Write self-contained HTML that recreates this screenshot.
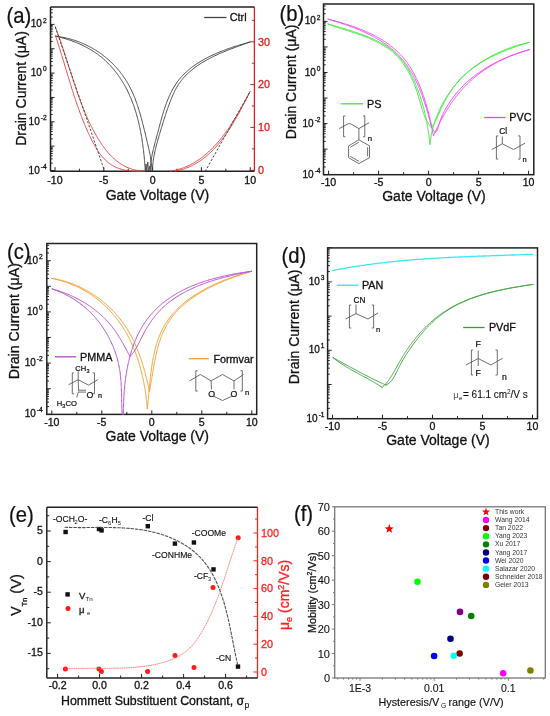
<!DOCTYPE html>
<html><head><meta charset="utf-8"><style>
html,body{margin:0;padding:0;background:#fff;}
svg{display:block;filter:blur(0.35px);}
text{font-family:"Liberation Sans", sans-serif;}
</style></head><body>
<svg width="550" height="716" viewBox="0 0 550 716">
<rect width="550" height="716" fill="#fff"/>
<line x1="254.4" y1="7" x2="254.4" y2="171.2" stroke="#d82020" stroke-width="1.3" />
<line x1="55" y1="171.2" x2="55" y2="167.2" stroke="#222" stroke-width="1.0" />
<line x1="103.8" y1="171.2" x2="103.8" y2="167.2" stroke="#222" stroke-width="1.0" />
<line x1="152.6" y1="171.2" x2="152.6" y2="167.2" stroke="#222" stroke-width="1.0" />
<line x1="201.4" y1="171.2" x2="201.4" y2="167.2" stroke="#222" stroke-width="1.0" />
<line x1="250.2" y1="171.2" x2="250.2" y2="167.2" stroke="#222" stroke-width="1.0" />
<line x1="79.4" y1="171.2" x2="79.4" y2="168.7" stroke="#222" stroke-width="1.0" />
<line x1="128.2" y1="171.2" x2="128.2" y2="168.7" stroke="#222" stroke-width="1.0" />
<line x1="177" y1="171.2" x2="177" y2="168.7" stroke="#222" stroke-width="1.0" />
<line x1="225.8" y1="171.2" x2="225.8" y2="168.7" stroke="#222" stroke-width="1.0" />
<line x1="50.5" y1="170.5" x2="54.5" y2="170.5" stroke="#222" stroke-width="1.0" />
<line x1="50.5" y1="163.17" x2="52.7" y2="163.17" stroke="#222" stroke-width="1.0" />
<line x1="50.5" y1="158.88" x2="52.7" y2="158.88" stroke="#222" stroke-width="1.0" />
<line x1="50.5" y1="155.84" x2="52.7" y2="155.84" stroke="#222" stroke-width="1.0" />
<line x1="50.5" y1="153.48" x2="52.7" y2="153.48" stroke="#222" stroke-width="1.0" />
<line x1="50.5" y1="151.55" x2="52.7" y2="151.55" stroke="#222" stroke-width="1.0" />
<line x1="50.5" y1="149.92" x2="52.7" y2="149.92" stroke="#222" stroke-width="1.0" />
<line x1="50.5" y1="148.51" x2="52.7" y2="148.51" stroke="#222" stroke-width="1.0" />
<line x1="50.5" y1="147.26" x2="52.7" y2="147.26" stroke="#222" stroke-width="1.0" />
<line x1="50.5" y1="146.15" x2="54.5" y2="146.15" stroke="#222" stroke-width="1.0" />
<line x1="50.5" y1="138.82" x2="52.7" y2="138.82" stroke="#222" stroke-width="1.0" />
<line x1="50.5" y1="134.53" x2="52.7" y2="134.53" stroke="#222" stroke-width="1.0" />
<line x1="50.5" y1="131.49" x2="52.7" y2="131.49" stroke="#222" stroke-width="1.0" />
<line x1="50.5" y1="129.13" x2="52.7" y2="129.13" stroke="#222" stroke-width="1.0" />
<line x1="50.5" y1="127.2" x2="52.7" y2="127.2" stroke="#222" stroke-width="1.0" />
<line x1="50.5" y1="125.57" x2="52.7" y2="125.57" stroke="#222" stroke-width="1.0" />
<line x1="50.5" y1="124.16" x2="52.7" y2="124.16" stroke="#222" stroke-width="1.0" />
<line x1="50.5" y1="122.91" x2="52.7" y2="122.91" stroke="#222" stroke-width="1.0" />
<line x1="50.5" y1="121.8" x2="54.5" y2="121.8" stroke="#222" stroke-width="1.0" />
<line x1="50.5" y1="114.47" x2="52.7" y2="114.47" stroke="#222" stroke-width="1.0" />
<line x1="50.5" y1="110.18" x2="52.7" y2="110.18" stroke="#222" stroke-width="1.0" />
<line x1="50.5" y1="107.14" x2="52.7" y2="107.14" stroke="#222" stroke-width="1.0" />
<line x1="50.5" y1="104.78" x2="52.7" y2="104.78" stroke="#222" stroke-width="1.0" />
<line x1="50.5" y1="102.85" x2="52.7" y2="102.85" stroke="#222" stroke-width="1.0" />
<line x1="50.5" y1="101.22" x2="52.7" y2="101.22" stroke="#222" stroke-width="1.0" />
<line x1="50.5" y1="99.81" x2="52.7" y2="99.81" stroke="#222" stroke-width="1.0" />
<line x1="50.5" y1="98.56" x2="52.7" y2="98.56" stroke="#222" stroke-width="1.0" />
<line x1="50.5" y1="97.45" x2="54.5" y2="97.45" stroke="#222" stroke-width="1.0" />
<line x1="50.5" y1="90.12" x2="52.7" y2="90.12" stroke="#222" stroke-width="1.0" />
<line x1="50.5" y1="85.83" x2="52.7" y2="85.83" stroke="#222" stroke-width="1.0" />
<line x1="50.5" y1="82.79" x2="52.7" y2="82.79" stroke="#222" stroke-width="1.0" />
<line x1="50.5" y1="80.43" x2="52.7" y2="80.43" stroke="#222" stroke-width="1.0" />
<line x1="50.5" y1="78.5" x2="52.7" y2="78.5" stroke="#222" stroke-width="1.0" />
<line x1="50.5" y1="76.87" x2="52.7" y2="76.87" stroke="#222" stroke-width="1.0" />
<line x1="50.5" y1="75.46" x2="52.7" y2="75.46" stroke="#222" stroke-width="1.0" />
<line x1="50.5" y1="74.21" x2="52.7" y2="74.21" stroke="#222" stroke-width="1.0" />
<line x1="50.5" y1="73.1" x2="54.5" y2="73.1" stroke="#222" stroke-width="1.0" />
<line x1="50.5" y1="65.77" x2="52.7" y2="65.77" stroke="#222" stroke-width="1.0" />
<line x1="50.5" y1="61.48" x2="52.7" y2="61.48" stroke="#222" stroke-width="1.0" />
<line x1="50.5" y1="58.44" x2="52.7" y2="58.44" stroke="#222" stroke-width="1.0" />
<line x1="50.5" y1="56.08" x2="52.7" y2="56.08" stroke="#222" stroke-width="1.0" />
<line x1="50.5" y1="54.15" x2="52.7" y2="54.15" stroke="#222" stroke-width="1.0" />
<line x1="50.5" y1="52.52" x2="52.7" y2="52.52" stroke="#222" stroke-width="1.0" />
<line x1="50.5" y1="51.11" x2="52.7" y2="51.11" stroke="#222" stroke-width="1.0" />
<line x1="50.5" y1="49.86" x2="52.7" y2="49.86" stroke="#222" stroke-width="1.0" />
<line x1="50.5" y1="48.75" x2="54.5" y2="48.75" stroke="#222" stroke-width="1.0" />
<line x1="50.5" y1="41.42" x2="52.7" y2="41.42" stroke="#222" stroke-width="1.0" />
<line x1="50.5" y1="37.13" x2="52.7" y2="37.13" stroke="#222" stroke-width="1.0" />
<line x1="50.5" y1="34.09" x2="52.7" y2="34.09" stroke="#222" stroke-width="1.0" />
<line x1="50.5" y1="31.73" x2="52.7" y2="31.73" stroke="#222" stroke-width="1.0" />
<line x1="50.5" y1="29.8" x2="52.7" y2="29.8" stroke="#222" stroke-width="1.0" />
<line x1="50.5" y1="28.17" x2="52.7" y2="28.17" stroke="#222" stroke-width="1.0" />
<line x1="50.5" y1="26.76" x2="52.7" y2="26.76" stroke="#222" stroke-width="1.0" />
<line x1="50.5" y1="25.51" x2="52.7" y2="25.51" stroke="#222" stroke-width="1.0" />
<line x1="50.5" y1="24.4" x2="54.5" y2="24.4" stroke="#222" stroke-width="1.0" />
<line x1="50.5" y1="17.07" x2="52.7" y2="17.07" stroke="#222" stroke-width="1.0" />
<line x1="50.5" y1="12.78" x2="52.7" y2="12.78" stroke="#222" stroke-width="1.0" />
<line x1="50.5" y1="9.74" x2="52.7" y2="9.74" stroke="#222" stroke-width="1.0" />
<line x1="254.4" y1="170.3" x2="250.4" y2="170.3" stroke="#d82020" stroke-width="1.0" />
<text x="257.9" y="174.1" font-size="10.8" text-anchor="start" fill="#d82020" stroke="#d82020" stroke-width="0.3" >0</text>
<line x1="254.4" y1="148.89" x2="251.9" y2="148.89" stroke="#d82020" stroke-width="1.0" />
<line x1="254.4" y1="127.47" x2="250.4" y2="127.47" stroke="#d82020" stroke-width="1.0" />
<text x="257.9" y="131.27" font-size="10.8" text-anchor="start" fill="#d82020" stroke="#d82020" stroke-width="0.3" >10</text>
<line x1="254.4" y1="106.06" x2="251.9" y2="106.06" stroke="#d82020" stroke-width="1.0" />
<line x1="254.4" y1="84.64" x2="250.4" y2="84.64" stroke="#d82020" stroke-width="1.0" />
<text x="257.9" y="88.44" font-size="10.8" text-anchor="start" fill="#d82020" stroke="#d82020" stroke-width="0.3" >20</text>
<line x1="254.4" y1="63.23" x2="251.9" y2="63.23" stroke="#d82020" stroke-width="1.0" />
<line x1="254.4" y1="41.81" x2="250.4" y2="41.81" stroke="#d82020" stroke-width="1.0" />
<text x="257.9" y="45.61" font-size="10.8" text-anchor="start" fill="#d82020" stroke="#d82020" stroke-width="0.3" >30</text>
<line x1="254.4" y1="20.4" x2="251.9" y2="20.4" stroke="#d82020" stroke-width="1.0" />
<line x1="50.5" y1="7" x2="254.4" y2="7" stroke="#222" stroke-width="1.5" />
<line x1="50.5" y1="7" x2="50.5" y2="171.2" stroke="#222" stroke-width="1.5" />
<line x1="50.5" y1="171.2" x2="254.4" y2="171.2" stroke="#222" stroke-width="1.5" />
<text x="55" y="183.7" font-size="10.6" text-anchor="middle" fill="#111" stroke="#111" stroke-width="0.3" >-10</text>
<text x="103.8" y="183.7" font-size="10.6" text-anchor="middle" fill="#111" stroke="#111" stroke-width="0.3" >-5</text>
<text x="152.6" y="183.7" font-size="10.6" text-anchor="middle" fill="#111" stroke="#111" stroke-width="0.3" >0</text>
<text x="201.4" y="183.7" font-size="10.6" text-anchor="middle" fill="#111" stroke="#111" stroke-width="0.3" >5</text>
<text x="250.2" y="183.7" font-size="10.6" text-anchor="middle" fill="#111" stroke="#111" stroke-width="0.3" >10</text>
<text x="46.6" y="27.4" font-size="10" text-anchor="end" fill="#111" stroke="#111" stroke-width="0.3">10<tspan dx="1" dy="-4.9" font-size="6.6">2</tspan></text>
<text x="46.6" y="76.1" font-size="10" text-anchor="end" fill="#111" stroke="#111" stroke-width="0.3">10<tspan dx="1" dy="-4.9" font-size="6.6">0</tspan></text>
<text x="46.6" y="124.8" font-size="10" text-anchor="end" fill="#111" stroke="#111" stroke-width="0.3">10<tspan dx="1" dy="-4.9" font-size="6.6">-2</tspan></text>
<text x="46.6" y="173.5" font-size="10" text-anchor="end" fill="#111" stroke="#111" stroke-width="0.3">10<tspan dx="1" dy="-4.9" font-size="6.6">-4</tspan></text>
<text x="157.5" y="199.8" font-size="14" text-anchor="middle" fill="#111" stroke="#111" stroke-width="0.3" >Gate Voltage (V)</text>
<text x="25.7" y="88.5" font-size="14" text-anchor="middle" fill="#111" stroke="#111" stroke-width="0.3" transform="rotate(-90 25.7 88.5)">Drain Current (μA)</text>
<text x="0" y="0" font-size="22.5" fill="#111" stroke="#111" stroke-width="0.25" transform="translate(6.6 22.8) scale(0.9 1)">(a)</text>
<line x1="204.2" y1="17.5" x2="226.5" y2="17.5" stroke="#444" stroke-width="1.3" />
<text x="229.8" y="21.2" font-size="10.8" text-anchor="start" fill="#111" stroke="#111" stroke-width="0.3" >Ctrl</text>
<line x1="328.6" y1="174.7" x2="328.6" y2="170.7" stroke="#222" stroke-width="1.0" />
<line x1="378.6" y1="174.7" x2="378.6" y2="170.7" stroke="#222" stroke-width="1.0" />
<line x1="428.6" y1="174.7" x2="428.6" y2="170.7" stroke="#222" stroke-width="1.0" />
<line x1="478.6" y1="174.7" x2="478.6" y2="170.7" stroke="#222" stroke-width="1.0" />
<line x1="528.6" y1="174.7" x2="528.6" y2="170.7" stroke="#222" stroke-width="1.0" />
<line x1="353.6" y1="174.7" x2="353.6" y2="172.2" stroke="#222" stroke-width="1.0" />
<line x1="403.6" y1="174.7" x2="403.6" y2="172.2" stroke="#222" stroke-width="1.0" />
<line x1="453.6" y1="174.7" x2="453.6" y2="172.2" stroke="#222" stroke-width="1.0" />
<line x1="503.6" y1="174.7" x2="503.6" y2="172.2" stroke="#222" stroke-width="1.0" />
<line x1="323.5" y1="174.7" x2="327.5" y2="174.7" stroke="#222" stroke-width="1.0" />
<line x1="323.5" y1="167.01" x2="325.7" y2="167.01" stroke="#222" stroke-width="1.0" />
<line x1="323.5" y1="162.51" x2="325.7" y2="162.51" stroke="#222" stroke-width="1.0" />
<line x1="323.5" y1="159.32" x2="325.7" y2="159.32" stroke="#222" stroke-width="1.0" />
<line x1="323.5" y1="156.84" x2="325.7" y2="156.84" stroke="#222" stroke-width="1.0" />
<line x1="323.5" y1="154.82" x2="325.7" y2="154.82" stroke="#222" stroke-width="1.0" />
<line x1="323.5" y1="153.11" x2="325.7" y2="153.11" stroke="#222" stroke-width="1.0" />
<line x1="323.5" y1="151.63" x2="325.7" y2="151.63" stroke="#222" stroke-width="1.0" />
<line x1="323.5" y1="150.32" x2="325.7" y2="150.32" stroke="#222" stroke-width="1.0" />
<line x1="323.5" y1="149.15" x2="327.5" y2="149.15" stroke="#222" stroke-width="1.0" />
<line x1="323.5" y1="141.46" x2="325.7" y2="141.46" stroke="#222" stroke-width="1.0" />
<line x1="323.5" y1="136.96" x2="325.7" y2="136.96" stroke="#222" stroke-width="1.0" />
<line x1="323.5" y1="133.77" x2="325.7" y2="133.77" stroke="#222" stroke-width="1.0" />
<line x1="323.5" y1="131.29" x2="325.7" y2="131.29" stroke="#222" stroke-width="1.0" />
<line x1="323.5" y1="129.27" x2="325.7" y2="129.27" stroke="#222" stroke-width="1.0" />
<line x1="323.5" y1="127.56" x2="325.7" y2="127.56" stroke="#222" stroke-width="1.0" />
<line x1="323.5" y1="126.08" x2="325.7" y2="126.08" stroke="#222" stroke-width="1.0" />
<line x1="323.5" y1="124.77" x2="325.7" y2="124.77" stroke="#222" stroke-width="1.0" />
<line x1="323.5" y1="123.6" x2="327.5" y2="123.6" stroke="#222" stroke-width="1.0" />
<line x1="323.5" y1="115.91" x2="325.7" y2="115.91" stroke="#222" stroke-width="1.0" />
<line x1="323.5" y1="111.41" x2="325.7" y2="111.41" stroke="#222" stroke-width="1.0" />
<line x1="323.5" y1="108.22" x2="325.7" y2="108.22" stroke="#222" stroke-width="1.0" />
<line x1="323.5" y1="105.74" x2="325.7" y2="105.74" stroke="#222" stroke-width="1.0" />
<line x1="323.5" y1="103.72" x2="325.7" y2="103.72" stroke="#222" stroke-width="1.0" />
<line x1="323.5" y1="102.01" x2="325.7" y2="102.01" stroke="#222" stroke-width="1.0" />
<line x1="323.5" y1="100.53" x2="325.7" y2="100.53" stroke="#222" stroke-width="1.0" />
<line x1="323.5" y1="99.22" x2="325.7" y2="99.22" stroke="#222" stroke-width="1.0" />
<line x1="323.5" y1="98.05" x2="327.5" y2="98.05" stroke="#222" stroke-width="1.0" />
<line x1="323.5" y1="90.36" x2="325.7" y2="90.36" stroke="#222" stroke-width="1.0" />
<line x1="323.5" y1="85.86" x2="325.7" y2="85.86" stroke="#222" stroke-width="1.0" />
<line x1="323.5" y1="82.67" x2="325.7" y2="82.67" stroke="#222" stroke-width="1.0" />
<line x1="323.5" y1="80.19" x2="325.7" y2="80.19" stroke="#222" stroke-width="1.0" />
<line x1="323.5" y1="78.17" x2="325.7" y2="78.17" stroke="#222" stroke-width="1.0" />
<line x1="323.5" y1="76.46" x2="325.7" y2="76.46" stroke="#222" stroke-width="1.0" />
<line x1="323.5" y1="74.98" x2="325.7" y2="74.98" stroke="#222" stroke-width="1.0" />
<line x1="323.5" y1="73.67" x2="325.7" y2="73.67" stroke="#222" stroke-width="1.0" />
<line x1="323.5" y1="72.5" x2="327.5" y2="72.5" stroke="#222" stroke-width="1.0" />
<line x1="323.5" y1="64.81" x2="325.7" y2="64.81" stroke="#222" stroke-width="1.0" />
<line x1="323.5" y1="60.31" x2="325.7" y2="60.31" stroke="#222" stroke-width="1.0" />
<line x1="323.5" y1="57.12" x2="325.7" y2="57.12" stroke="#222" stroke-width="1.0" />
<line x1="323.5" y1="54.64" x2="325.7" y2="54.64" stroke="#222" stroke-width="1.0" />
<line x1="323.5" y1="52.62" x2="325.7" y2="52.62" stroke="#222" stroke-width="1.0" />
<line x1="323.5" y1="50.91" x2="325.7" y2="50.91" stroke="#222" stroke-width="1.0" />
<line x1="323.5" y1="49.43" x2="325.7" y2="49.43" stroke="#222" stroke-width="1.0" />
<line x1="323.5" y1="48.12" x2="325.7" y2="48.12" stroke="#222" stroke-width="1.0" />
<line x1="323.5" y1="46.95" x2="327.5" y2="46.95" stroke="#222" stroke-width="1.0" />
<line x1="323.5" y1="39.26" x2="325.7" y2="39.26" stroke="#222" stroke-width="1.0" />
<line x1="323.5" y1="34.76" x2="325.7" y2="34.76" stroke="#222" stroke-width="1.0" />
<line x1="323.5" y1="31.57" x2="325.7" y2="31.57" stroke="#222" stroke-width="1.0" />
<line x1="323.5" y1="29.09" x2="325.7" y2="29.09" stroke="#222" stroke-width="1.0" />
<line x1="323.5" y1="27.07" x2="325.7" y2="27.07" stroke="#222" stroke-width="1.0" />
<line x1="323.5" y1="25.36" x2="325.7" y2="25.36" stroke="#222" stroke-width="1.0" />
<line x1="323.5" y1="23.88" x2="325.7" y2="23.88" stroke="#222" stroke-width="1.0" />
<line x1="323.5" y1="22.57" x2="325.7" y2="22.57" stroke="#222" stroke-width="1.0" />
<line x1="323.5" y1="21.4" x2="327.5" y2="21.4" stroke="#222" stroke-width="1.0" />
<line x1="323.5" y1="13.71" x2="325.7" y2="13.71" stroke="#222" stroke-width="1.0" />
<line x1="323.5" y1="9.21" x2="325.7" y2="9.21" stroke="#222" stroke-width="1.0" />
<line x1="323.5" y1="6.02" x2="325.7" y2="6.02" stroke="#222" stroke-width="1.0" />
<rect x="323.5" y="4" width="210.3" height="170.7" stroke="#222" stroke-width="1.5" fill="none"/>
<text x="328.6" y="185.6" font-size="10.6" text-anchor="middle" fill="#111" stroke="#111" stroke-width="0.3" >-10</text>
<text x="378.6" y="185.6" font-size="10.6" text-anchor="middle" fill="#111" stroke="#111" stroke-width="0.3" >-5</text>
<text x="428.6" y="185.6" font-size="10.6" text-anchor="middle" fill="#111" stroke="#111" stroke-width="0.3" >0</text>
<text x="478.6" y="185.6" font-size="10.6" text-anchor="middle" fill="#111" stroke="#111" stroke-width="0.3" >5</text>
<text x="528.6" y="185.6" font-size="10.6" text-anchor="middle" fill="#111" stroke="#111" stroke-width="0.3" >10</text>
<text x="320.5" y="24.4" font-size="10" text-anchor="end" fill="#111" stroke="#111" stroke-width="0.3">10<tspan dx="1" dy="-4.9" font-size="6.6">2</tspan></text>
<text x="320.5" y="75.5" font-size="10" text-anchor="end" fill="#111" stroke="#111" stroke-width="0.3">10<tspan dx="1" dy="-4.9" font-size="6.6">0</tspan></text>
<text x="320.5" y="126.6" font-size="10" text-anchor="end" fill="#111" stroke="#111" stroke-width="0.3">10<tspan dx="1" dy="-4.9" font-size="6.6">-2</tspan></text>
<text x="320.5" y="177.7" font-size="10" text-anchor="end" fill="#111" stroke="#111" stroke-width="0.3">10<tspan dx="1" dy="-4.9" font-size="6.6">-4</tspan></text>
<text x="434" y="200.7" font-size="14" text-anchor="middle" fill="#111" stroke="#111" stroke-width="0.3" >Gate Voltage (V)</text>
<text x="295.6" y="81.9" font-size="14" text-anchor="middle" fill="#111" stroke="#111" stroke-width="0.3" transform="rotate(-90 295.6 81.9)">Drain Current (μA)</text>
<text x="0" y="0" font-size="22.5" fill="#111" stroke="#111" stroke-width="0.25" transform="translate(279.5 20.7) scale(0.9 1)">(b)</text>
<line x1="340.6" y1="103.8" x2="363.2" y2="103.8" stroke="#3ee83e" stroke-width="1.3" />
<text x="367" y="107.6" font-size="10.8" text-anchor="start" fill="#111" stroke="#111" stroke-width="0.3" >PS</text>
<line x1="484.2" y1="117.5" x2="505.5" y2="117.5" stroke="#f040f0" stroke-width="1.3" />
<text x="509.3" y="121.3" font-size="10.8" text-anchor="start" fill="#111" stroke="#111" stroke-width="0.3" >PVC</text>
<line x1="51.8" y1="414.4" x2="51.8" y2="410.4" stroke="#222" stroke-width="1.0" />
<line x1="101.8" y1="414.4" x2="101.8" y2="410.4" stroke="#222" stroke-width="1.0" />
<line x1="151.8" y1="414.4" x2="151.8" y2="410.4" stroke="#222" stroke-width="1.0" />
<line x1="201.8" y1="414.4" x2="201.8" y2="410.4" stroke="#222" stroke-width="1.0" />
<line x1="251.8" y1="414.4" x2="251.8" y2="410.4" stroke="#222" stroke-width="1.0" />
<line x1="76.8" y1="414.4" x2="76.8" y2="411.9" stroke="#222" stroke-width="1.0" />
<line x1="126.8" y1="414.4" x2="126.8" y2="411.9" stroke="#222" stroke-width="1.0" />
<line x1="176.8" y1="414.4" x2="176.8" y2="411.9" stroke="#222" stroke-width="1.0" />
<line x1="226.8" y1="414.4" x2="226.8" y2="411.9" stroke="#222" stroke-width="1.0" />
<line x1="46.8" y1="414.3" x2="50.8" y2="414.3" stroke="#222" stroke-width="1.0" />
<line x1="46.8" y1="406.59" x2="49" y2="406.59" stroke="#222" stroke-width="1.0" />
<line x1="46.8" y1="402.09" x2="49" y2="402.09" stroke="#222" stroke-width="1.0" />
<line x1="46.8" y1="398.89" x2="49" y2="398.89" stroke="#222" stroke-width="1.0" />
<line x1="46.8" y1="396.41" x2="49" y2="396.41" stroke="#222" stroke-width="1.0" />
<line x1="46.8" y1="394.38" x2="49" y2="394.38" stroke="#222" stroke-width="1.0" />
<line x1="46.8" y1="392.67" x2="49" y2="392.67" stroke="#222" stroke-width="1.0" />
<line x1="46.8" y1="391.18" x2="49" y2="391.18" stroke="#222" stroke-width="1.0" />
<line x1="46.8" y1="389.87" x2="49" y2="389.87" stroke="#222" stroke-width="1.0" />
<line x1="46.8" y1="388.7" x2="50.8" y2="388.7" stroke="#222" stroke-width="1.0" />
<line x1="46.8" y1="380.99" x2="49" y2="380.99" stroke="#222" stroke-width="1.0" />
<line x1="46.8" y1="376.49" x2="49" y2="376.49" stroke="#222" stroke-width="1.0" />
<line x1="46.8" y1="373.29" x2="49" y2="373.29" stroke="#222" stroke-width="1.0" />
<line x1="46.8" y1="370.81" x2="49" y2="370.81" stroke="#222" stroke-width="1.0" />
<line x1="46.8" y1="368.78" x2="49" y2="368.78" stroke="#222" stroke-width="1.0" />
<line x1="46.8" y1="367.07" x2="49" y2="367.07" stroke="#222" stroke-width="1.0" />
<line x1="46.8" y1="365.58" x2="49" y2="365.58" stroke="#222" stroke-width="1.0" />
<line x1="46.8" y1="364.27" x2="49" y2="364.27" stroke="#222" stroke-width="1.0" />
<line x1="46.8" y1="363.1" x2="50.8" y2="363.1" stroke="#222" stroke-width="1.0" />
<line x1="46.8" y1="355.39" x2="49" y2="355.39" stroke="#222" stroke-width="1.0" />
<line x1="46.8" y1="350.89" x2="49" y2="350.89" stroke="#222" stroke-width="1.0" />
<line x1="46.8" y1="347.69" x2="49" y2="347.69" stroke="#222" stroke-width="1.0" />
<line x1="46.8" y1="345.21" x2="49" y2="345.21" stroke="#222" stroke-width="1.0" />
<line x1="46.8" y1="343.18" x2="49" y2="343.18" stroke="#222" stroke-width="1.0" />
<line x1="46.8" y1="341.47" x2="49" y2="341.47" stroke="#222" stroke-width="1.0" />
<line x1="46.8" y1="339.98" x2="49" y2="339.98" stroke="#222" stroke-width="1.0" />
<line x1="46.8" y1="338.67" x2="49" y2="338.67" stroke="#222" stroke-width="1.0" />
<line x1="46.8" y1="337.5" x2="50.8" y2="337.5" stroke="#222" stroke-width="1.0" />
<line x1="46.8" y1="329.79" x2="49" y2="329.79" stroke="#222" stroke-width="1.0" />
<line x1="46.8" y1="325.29" x2="49" y2="325.29" stroke="#222" stroke-width="1.0" />
<line x1="46.8" y1="322.09" x2="49" y2="322.09" stroke="#222" stroke-width="1.0" />
<line x1="46.8" y1="319.61" x2="49" y2="319.61" stroke="#222" stroke-width="1.0" />
<line x1="46.8" y1="317.58" x2="49" y2="317.58" stroke="#222" stroke-width="1.0" />
<line x1="46.8" y1="315.87" x2="49" y2="315.87" stroke="#222" stroke-width="1.0" />
<line x1="46.8" y1="314.38" x2="49" y2="314.38" stroke="#222" stroke-width="1.0" />
<line x1="46.8" y1="313.07" x2="49" y2="313.07" stroke="#222" stroke-width="1.0" />
<line x1="46.8" y1="311.9" x2="50.8" y2="311.9" stroke="#222" stroke-width="1.0" />
<line x1="46.8" y1="304.19" x2="49" y2="304.19" stroke="#222" stroke-width="1.0" />
<line x1="46.8" y1="299.69" x2="49" y2="299.69" stroke="#222" stroke-width="1.0" />
<line x1="46.8" y1="296.49" x2="49" y2="296.49" stroke="#222" stroke-width="1.0" />
<line x1="46.8" y1="294.01" x2="49" y2="294.01" stroke="#222" stroke-width="1.0" />
<line x1="46.8" y1="291.98" x2="49" y2="291.98" stroke="#222" stroke-width="1.0" />
<line x1="46.8" y1="290.27" x2="49" y2="290.27" stroke="#222" stroke-width="1.0" />
<line x1="46.8" y1="288.78" x2="49" y2="288.78" stroke="#222" stroke-width="1.0" />
<line x1="46.8" y1="287.47" x2="49" y2="287.47" stroke="#222" stroke-width="1.0" />
<line x1="46.8" y1="286.3" x2="50.8" y2="286.3" stroke="#222" stroke-width="1.0" />
<line x1="46.8" y1="278.59" x2="49" y2="278.59" stroke="#222" stroke-width="1.0" />
<line x1="46.8" y1="274.09" x2="49" y2="274.09" stroke="#222" stroke-width="1.0" />
<line x1="46.8" y1="270.89" x2="49" y2="270.89" stroke="#222" stroke-width="1.0" />
<line x1="46.8" y1="268.41" x2="49" y2="268.41" stroke="#222" stroke-width="1.0" />
<line x1="46.8" y1="266.38" x2="49" y2="266.38" stroke="#222" stroke-width="1.0" />
<line x1="46.8" y1="264.67" x2="49" y2="264.67" stroke="#222" stroke-width="1.0" />
<line x1="46.8" y1="263.18" x2="49" y2="263.18" stroke="#222" stroke-width="1.0" />
<line x1="46.8" y1="261.87" x2="49" y2="261.87" stroke="#222" stroke-width="1.0" />
<line x1="46.8" y1="260.7" x2="50.8" y2="260.7" stroke="#222" stroke-width="1.0" />
<line x1="46.8" y1="252.99" x2="49" y2="252.99" stroke="#222" stroke-width="1.0" />
<line x1="46.8" y1="248.49" x2="49" y2="248.49" stroke="#222" stroke-width="1.0" />
<line x1="46.8" y1="245.29" x2="49" y2="245.29" stroke="#222" stroke-width="1.0" />
<rect x="46.8" y="243.5" width="209.9" height="170.9" stroke="#222" stroke-width="1.5" fill="none"/>
<text x="51.8" y="425.7" font-size="10.6" text-anchor="middle" fill="#111" stroke="#111" stroke-width="0.3" >-10</text>
<text x="101.8" y="425.7" font-size="10.6" text-anchor="middle" fill="#111" stroke="#111" stroke-width="0.3" >-5</text>
<text x="151.8" y="425.7" font-size="10.6" text-anchor="middle" fill="#111" stroke="#111" stroke-width="0.3" >0</text>
<text x="201.8" y="425.7" font-size="10.6" text-anchor="middle" fill="#111" stroke="#111" stroke-width="0.3" >5</text>
<text x="251.8" y="425.7" font-size="10.6" text-anchor="middle" fill="#111" stroke="#111" stroke-width="0.3" >10</text>
<text x="42.7" y="263.7" font-size="10" text-anchor="end" fill="#111" stroke="#111" stroke-width="0.3">10<tspan dx="1" dy="-4.9" font-size="6.6">2</tspan></text>
<text x="42.7" y="314.9" font-size="10" text-anchor="end" fill="#111" stroke="#111" stroke-width="0.3">10<tspan dx="1" dy="-4.9" font-size="6.6">0</tspan></text>
<text x="42.7" y="366.1" font-size="10" text-anchor="end" fill="#111" stroke="#111" stroke-width="0.3">10<tspan dx="1" dy="-4.9" font-size="6.6">-2</tspan></text>
<text x="42.7" y="417.3" font-size="10" text-anchor="end" fill="#111" stroke="#111" stroke-width="0.3">10<tspan dx="1" dy="-4.9" font-size="6.6">-4</tspan></text>
<text x="157.3" y="440.5" font-size="14" text-anchor="middle" fill="#111" stroke="#111" stroke-width="0.3" >Gate Voltage (V)</text>
<text x="19.3" y="321.2" font-size="14.2" text-anchor="middle" fill="#111" stroke="#111" stroke-width="0.3" transform="rotate(-90 19.3 321.2)">Drain Current (μA)</text>
<text x="0" y="0" font-size="22.5" fill="#111" stroke="#111" stroke-width="0.25" transform="translate(7 259.3) scale(0.9 1)">(c)</text>
<line x1="54.8" y1="356.8" x2="76.2" y2="356.8" stroke="#b44cc8" stroke-width="1.3" />
<text x="80" y="360.6" font-size="10.8" text-anchor="start" fill="#111" stroke="#111" stroke-width="0.3" >PMMA</text>
<line x1="188.8" y1="358.7" x2="208.9" y2="358.7" stroke="#f5a030" stroke-width="1.3" />
<text x="213.4" y="362.5" font-size="10.8" text-anchor="start" fill="#111" stroke="#111" stroke-width="0.3" >Formvar</text>
<line x1="332.5" y1="418.7" x2="332.5" y2="414.7" stroke="#222" stroke-width="1.0" />
<line x1="382.5" y1="418.7" x2="382.5" y2="414.7" stroke="#222" stroke-width="1.0" />
<line x1="432.5" y1="418.7" x2="432.5" y2="414.7" stroke="#222" stroke-width="1.0" />
<line x1="482.5" y1="418.7" x2="482.5" y2="414.7" stroke="#222" stroke-width="1.0" />
<line x1="532.5" y1="418.7" x2="532.5" y2="414.7" stroke="#222" stroke-width="1.0" />
<line x1="357.5" y1="418.7" x2="357.5" y2="416.2" stroke="#222" stroke-width="1.0" />
<line x1="407.5" y1="418.7" x2="407.5" y2="416.2" stroke="#222" stroke-width="1.0" />
<line x1="457.5" y1="418.7" x2="457.5" y2="416.2" stroke="#222" stroke-width="1.0" />
<line x1="507.5" y1="418.7" x2="507.5" y2="416.2" stroke="#222" stroke-width="1.0" />
<line x1="327.6" y1="418.7" x2="331.6" y2="418.7" stroke="#222" stroke-width="1.0" />
<line x1="327.6" y1="408.4" x2="329.8" y2="408.4" stroke="#222" stroke-width="1.0" />
<line x1="327.6" y1="402.38" x2="329.8" y2="402.38" stroke="#222" stroke-width="1.0" />
<line x1="327.6" y1="398.11" x2="329.8" y2="398.11" stroke="#222" stroke-width="1.0" />
<line x1="327.6" y1="394.8" x2="329.8" y2="394.8" stroke="#222" stroke-width="1.0" />
<line x1="327.6" y1="392.09" x2="329.8" y2="392.09" stroke="#222" stroke-width="1.0" />
<line x1="327.6" y1="389.8" x2="329.8" y2="389.8" stroke="#222" stroke-width="1.0" />
<line x1="327.6" y1="387.81" x2="329.8" y2="387.81" stroke="#222" stroke-width="1.0" />
<line x1="327.6" y1="386.06" x2="329.8" y2="386.06" stroke="#222" stroke-width="1.0" />
<line x1="327.6" y1="384.5" x2="331.6" y2="384.5" stroke="#222" stroke-width="1.0" />
<line x1="327.6" y1="374.2" x2="329.8" y2="374.2" stroke="#222" stroke-width="1.0" />
<line x1="327.6" y1="368.18" x2="329.8" y2="368.18" stroke="#222" stroke-width="1.0" />
<line x1="327.6" y1="363.91" x2="329.8" y2="363.91" stroke="#222" stroke-width="1.0" />
<line x1="327.6" y1="360.6" x2="329.8" y2="360.6" stroke="#222" stroke-width="1.0" />
<line x1="327.6" y1="357.89" x2="329.8" y2="357.89" stroke="#222" stroke-width="1.0" />
<line x1="327.6" y1="355.6" x2="329.8" y2="355.6" stroke="#222" stroke-width="1.0" />
<line x1="327.6" y1="353.61" x2="329.8" y2="353.61" stroke="#222" stroke-width="1.0" />
<line x1="327.6" y1="351.86" x2="329.8" y2="351.86" stroke="#222" stroke-width="1.0" />
<line x1="327.6" y1="350.3" x2="331.6" y2="350.3" stroke="#222" stroke-width="1.0" />
<line x1="327.6" y1="340" x2="329.8" y2="340" stroke="#222" stroke-width="1.0" />
<line x1="327.6" y1="333.98" x2="329.8" y2="333.98" stroke="#222" stroke-width="1.0" />
<line x1="327.6" y1="329.71" x2="329.8" y2="329.71" stroke="#222" stroke-width="1.0" />
<line x1="327.6" y1="326.4" x2="329.8" y2="326.4" stroke="#222" stroke-width="1.0" />
<line x1="327.6" y1="323.69" x2="329.8" y2="323.69" stroke="#222" stroke-width="1.0" />
<line x1="327.6" y1="321.4" x2="329.8" y2="321.4" stroke="#222" stroke-width="1.0" />
<line x1="327.6" y1="319.41" x2="329.8" y2="319.41" stroke="#222" stroke-width="1.0" />
<line x1="327.6" y1="317.66" x2="329.8" y2="317.66" stroke="#222" stroke-width="1.0" />
<line x1="327.6" y1="316.1" x2="331.6" y2="316.1" stroke="#222" stroke-width="1.0" />
<line x1="327.6" y1="305.8" x2="329.8" y2="305.8" stroke="#222" stroke-width="1.0" />
<line x1="327.6" y1="299.78" x2="329.8" y2="299.78" stroke="#222" stroke-width="1.0" />
<line x1="327.6" y1="295.51" x2="329.8" y2="295.51" stroke="#222" stroke-width="1.0" />
<line x1="327.6" y1="292.2" x2="329.8" y2="292.2" stroke="#222" stroke-width="1.0" />
<line x1="327.6" y1="289.49" x2="329.8" y2="289.49" stroke="#222" stroke-width="1.0" />
<line x1="327.6" y1="287.2" x2="329.8" y2="287.2" stroke="#222" stroke-width="1.0" />
<line x1="327.6" y1="285.21" x2="329.8" y2="285.21" stroke="#222" stroke-width="1.0" />
<line x1="327.6" y1="283.46" x2="329.8" y2="283.46" stroke="#222" stroke-width="1.0" />
<line x1="327.6" y1="281.9" x2="331.6" y2="281.9" stroke="#222" stroke-width="1.0" />
<line x1="327.6" y1="271.6" x2="329.8" y2="271.6" stroke="#222" stroke-width="1.0" />
<line x1="327.6" y1="265.58" x2="329.8" y2="265.58" stroke="#222" stroke-width="1.0" />
<line x1="327.6" y1="261.31" x2="329.8" y2="261.31" stroke="#222" stroke-width="1.0" />
<line x1="327.6" y1="258" x2="329.8" y2="258" stroke="#222" stroke-width="1.0" />
<line x1="327.6" y1="255.29" x2="329.8" y2="255.29" stroke="#222" stroke-width="1.0" />
<line x1="327.6" y1="253" x2="329.8" y2="253" stroke="#222" stroke-width="1.0" />
<line x1="327.6" y1="251.01" x2="329.8" y2="251.01" stroke="#222" stroke-width="1.0" />
<line x1="327.6" y1="249.26" x2="329.8" y2="249.26" stroke="#222" stroke-width="1.0" />
<line x1="327.6" y1="247.7" x2="331.6" y2="247.7" stroke="#222" stroke-width="1.0" />
<rect x="327.6" y="247.9" width="209.9" height="170.8" stroke="#222" stroke-width="1.5" fill="none"/>
<text x="332.5" y="430.1" font-size="10.6" text-anchor="middle" fill="#111" stroke="#111" stroke-width="0.3" >-10</text>
<text x="382.5" y="430.1" font-size="10.6" text-anchor="middle" fill="#111" stroke="#111" stroke-width="0.3" >-5</text>
<text x="432.5" y="430.1" font-size="10.6" text-anchor="middle" fill="#111" stroke="#111" stroke-width="0.3" >0</text>
<text x="482.5" y="430.1" font-size="10.6" text-anchor="middle" fill="#111" stroke="#111" stroke-width="0.3" >5</text>
<text x="532.5" y="430.1" font-size="10.6" text-anchor="middle" fill="#111" stroke="#111" stroke-width="0.3" >10</text>
<text x="324.5" y="284.9" font-size="10" text-anchor="end" fill="#111" stroke="#111" stroke-width="0.3">10<tspan dx="1" dy="-4.9" font-size="6.6">3</tspan></text>
<text x="324.5" y="353.3" font-size="10" text-anchor="end" fill="#111" stroke="#111" stroke-width="0.3">10<tspan dx="1" dy="-4.9" font-size="6.6">1</tspan></text>
<text x="324.5" y="421.7" font-size="10" text-anchor="end" fill="#111" stroke="#111" stroke-width="0.3">10<tspan dx="1" dy="-4.9" font-size="6.6">-1</tspan></text>
<text x="438" y="444.5" font-size="14" text-anchor="middle" fill="#111" stroke="#111" stroke-width="0.3" >Gate Voltage (V)</text>
<text x="299.4" y="326.8" font-size="14" text-anchor="middle" fill="#111" stroke="#111" stroke-width="0.3" transform="rotate(-90 299.4 326.8)">Drain Current (μA)</text>
<text x="0" y="0" font-size="22.5" fill="#111" stroke="#111" stroke-width="0.25" transform="translate(281.5 263) scale(0.9 1)">(d)</text>
<line x1="336.8" y1="285.2" x2="358.2" y2="285.2" stroke="#30e0f0" stroke-width="1.3" />
<text x="361.9" y="289" font-size="10.8" text-anchor="start" fill="#111" stroke="#111" stroke-width="0.3" >PAN</text>
<line x1="463.2" y1="327.5" x2="484.6" y2="327.5" stroke="#3a9a3a" stroke-width="1.3" />
<text x="488.9" y="331.3" font-size="10.8" text-anchor="start" fill="#111" stroke="#111" stroke-width="0.3" >PVdF</text>
<line x1="257.5" y1="507.2" x2="257.5" y2="678" stroke="#ff2020" stroke-width="1.3" />
<line x1="257.5" y1="672" x2="253.5" y2="672" stroke="#ff2020" stroke-width="1.0" />
<text x="261" y="675.8" font-size="10.8" text-anchor="start" fill="#ff2020" stroke="#ff2020" stroke-width="0.3" >0</text>
<line x1="257.5" y1="658.1" x2="255" y2="658.1" stroke="#ff2020" stroke-width="1.0" />
<line x1="257.5" y1="644.2" x2="253.5" y2="644.2" stroke="#ff2020" stroke-width="1.0" />
<text x="261" y="648" font-size="10.8" text-anchor="start" fill="#ff2020" stroke="#ff2020" stroke-width="0.3" >20</text>
<line x1="257.5" y1="630.3" x2="255" y2="630.3" stroke="#ff2020" stroke-width="1.0" />
<line x1="257.5" y1="616.4" x2="253.5" y2="616.4" stroke="#ff2020" stroke-width="1.0" />
<text x="261" y="620.2" font-size="10.8" text-anchor="start" fill="#ff2020" stroke="#ff2020" stroke-width="0.3" >40</text>
<line x1="257.5" y1="602.5" x2="255" y2="602.5" stroke="#ff2020" stroke-width="1.0" />
<line x1="257.5" y1="588.6" x2="253.5" y2="588.6" stroke="#ff2020" stroke-width="1.0" />
<text x="261" y="592.4" font-size="10.8" text-anchor="start" fill="#ff2020" stroke="#ff2020" stroke-width="0.3" >60</text>
<line x1="257.5" y1="574.7" x2="255" y2="574.7" stroke="#ff2020" stroke-width="1.0" />
<line x1="257.5" y1="560.8" x2="253.5" y2="560.8" stroke="#ff2020" stroke-width="1.0" />
<text x="261" y="564.6" font-size="10.8" text-anchor="start" fill="#ff2020" stroke="#ff2020" stroke-width="0.3" >80</text>
<line x1="257.5" y1="546.9" x2="255" y2="546.9" stroke="#ff2020" stroke-width="1.0" />
<line x1="257.5" y1="533" x2="253.5" y2="533" stroke="#ff2020" stroke-width="1.0" />
<text x="261" y="536.8" font-size="10.8" text-anchor="start" fill="#ff2020" stroke="#ff2020" stroke-width="0.3" >100</text>
<line x1="257.5" y1="519.1" x2="255" y2="519.1" stroke="#ff2020" stroke-width="1.0" />
<line x1="57.6" y1="678" x2="57.6" y2="674" stroke="#222" stroke-width="1.0" />
<line x1="99.6" y1="678" x2="99.6" y2="674" stroke="#222" stroke-width="1.0" />
<line x1="141.6" y1="678" x2="141.6" y2="674" stroke="#222" stroke-width="1.0" />
<line x1="183.6" y1="678" x2="183.6" y2="674" stroke="#222" stroke-width="1.0" />
<line x1="225.6" y1="678" x2="225.6" y2="674" stroke="#222" stroke-width="1.0" />
<line x1="78.6" y1="678" x2="78.6" y2="675.5" stroke="#222" stroke-width="1.0" />
<line x1="120.6" y1="678" x2="120.6" y2="675.5" stroke="#222" stroke-width="1.0" />
<line x1="162.6" y1="678" x2="162.6" y2="675.5" stroke="#222" stroke-width="1.0" />
<line x1="204.6" y1="678" x2="204.6" y2="675.5" stroke="#222" stroke-width="1.0" />
<line x1="246.6" y1="678" x2="246.6" y2="675.5" stroke="#222" stroke-width="1.0" />
<line x1="46.8" y1="668.7" x2="49.3" y2="668.7" stroke="#222" stroke-width="1.0" />
<line x1="46.8" y1="653.4" x2="50.8" y2="653.4" stroke="#222" stroke-width="1.0" />
<line x1="46.8" y1="638.1" x2="49.3" y2="638.1" stroke="#222" stroke-width="1.0" />
<line x1="46.8" y1="622.8" x2="50.8" y2="622.8" stroke="#222" stroke-width="1.0" />
<line x1="46.8" y1="607.5" x2="49.3" y2="607.5" stroke="#222" stroke-width="1.0" />
<line x1="46.8" y1="592.2" x2="50.8" y2="592.2" stroke="#222" stroke-width="1.0" />
<line x1="46.8" y1="576.9" x2="49.3" y2="576.9" stroke="#222" stroke-width="1.0" />
<line x1="46.8" y1="561.6" x2="50.8" y2="561.6" stroke="#222" stroke-width="1.0" />
<line x1="46.8" y1="546.3" x2="49.3" y2="546.3" stroke="#222" stroke-width="1.0" />
<line x1="46.8" y1="531" x2="50.8" y2="531" stroke="#222" stroke-width="1.0" />
<line x1="46.8" y1="515.7" x2="49.3" y2="515.7" stroke="#222" stroke-width="1.0" />
<line x1="46.8" y1="507.2" x2="257.5" y2="507.2" stroke="#222" stroke-width="1.5" />
<line x1="46.8" y1="507.2" x2="46.8" y2="678" stroke="#222" stroke-width="1.5" />
<line x1="46.8" y1="678" x2="257.5" y2="678" stroke="#222" stroke-width="1.5" />
<text x="57.6" y="689.4" font-size="10.6" text-anchor="middle" fill="#111" stroke="#111" stroke-width="0.3" >-0.2</text>
<text x="99.6" y="689.4" font-size="10.6" text-anchor="middle" fill="#111" stroke="#111" stroke-width="0.3" >0.0</text>
<text x="141.6" y="689.4" font-size="10.6" text-anchor="middle" fill="#111" stroke="#111" stroke-width="0.3" >0.2</text>
<text x="183.6" y="689.4" font-size="10.6" text-anchor="middle" fill="#111" stroke="#111" stroke-width="0.3" >0.4</text>
<text x="225.6" y="689.4" font-size="10.6" text-anchor="middle" fill="#111" stroke="#111" stroke-width="0.3" >0.6</text>
<text x="42.9" y="534" font-size="10.6" text-anchor="end" fill="#111" stroke="#111" stroke-width="0.3" >5</text>
<text x="42.9" y="564.6" font-size="10.6" text-anchor="end" fill="#111" stroke="#111" stroke-width="0.3" >0</text>
<text x="42.9" y="595.2" font-size="10.6" text-anchor="end" fill="#111" stroke="#111" stroke-width="0.3" >-5</text>
<text x="42.9" y="625.8" font-size="10.6" text-anchor="end" fill="#111" stroke="#111" stroke-width="0.3" >-10</text>
<text x="42.9" y="656.4" font-size="10.6" text-anchor="end" fill="#111" stroke="#111" stroke-width="0.3" >-15</text>
<text x="61" y="705" font-size="12.4" text-anchor="start" fill="#111" stroke="#111" stroke-width="0.3" >Hommett Substituent Constant, σ</text>
<text x="244.5" y="708" font-size="8.5" text-anchor="start" fill="#111" stroke="#111" stroke-width="0.15" >p</text>
<g transform="translate(21.3 615.8) rotate(-90)"><text x="0" y="0" font-size="14" fill="#111" stroke="#111" stroke-width="0.3">V<tspan font-size="7.5" dy="5.6">Tn</tspan><tspan dy="-5.6" font-size="14.6"> (V)</tspan></text></g>
<g transform="translate(288.7 630) rotate(-90)"><text x="0" y="0" font-size="14" fill="#ff2020" stroke="#ff2020" stroke-width="0.3">μ<tspan font-size="9" dy="3.5">e</tspan><tspan dy="-3.5" font-size="14"> (cm</tspan><tspan font-size="9" dy="-5">2</tspan><tspan dy="5" font-size="14">/Vs)</tspan></text></g>
<text x="0" y="0" font-size="22.5" fill="#111" stroke="#111" stroke-width="0.25" transform="translate(9 521.8) scale(0.9 1)">(e)</text>
<line x1="334.7" y1="678" x2="331.9" y2="678" stroke="#777" stroke-width="1.0" />
<text x="330" y="682" font-size="11" text-anchor="end" fill="#111" stroke="#111" stroke-width="0.1" >0</text>
<line x1="334.7" y1="665.77" x2="333.1" y2="665.77" stroke="#777" stroke-width="1.0" />
<line x1="334.7" y1="653.54" x2="331.9" y2="653.54" stroke="#777" stroke-width="1.0" />
<text x="330" y="657.54" font-size="11" text-anchor="end" fill="#111" stroke="#111" stroke-width="0.1" >10</text>
<line x1="334.7" y1="641.31" x2="333.1" y2="641.31" stroke="#777" stroke-width="1.0" />
<line x1="334.7" y1="629.09" x2="331.9" y2="629.09" stroke="#777" stroke-width="1.0" />
<text x="330" y="633.09" font-size="11" text-anchor="end" fill="#111" stroke="#111" stroke-width="0.1" >20</text>
<line x1="334.7" y1="616.86" x2="333.1" y2="616.86" stroke="#777" stroke-width="1.0" />
<line x1="334.7" y1="604.63" x2="331.9" y2="604.63" stroke="#777" stroke-width="1.0" />
<text x="330" y="608.63" font-size="11" text-anchor="end" fill="#111" stroke="#111" stroke-width="0.1" >30</text>
<line x1="334.7" y1="592.4" x2="333.1" y2="592.4" stroke="#777" stroke-width="1.0" />
<line x1="334.7" y1="580.17" x2="331.9" y2="580.17" stroke="#777" stroke-width="1.0" />
<text x="330" y="584.17" font-size="11" text-anchor="end" fill="#111" stroke="#111" stroke-width="0.1" >40</text>
<line x1="334.7" y1="567.94" x2="333.1" y2="567.94" stroke="#777" stroke-width="1.0" />
<line x1="334.7" y1="555.71" x2="331.9" y2="555.71" stroke="#777" stroke-width="1.0" />
<text x="330" y="559.71" font-size="11" text-anchor="end" fill="#111" stroke="#111" stroke-width="0.1" >50</text>
<line x1="334.7" y1="543.49" x2="333.1" y2="543.49" stroke="#777" stroke-width="1.0" />
<line x1="334.7" y1="531.26" x2="331.9" y2="531.26" stroke="#777" stroke-width="1.0" />
<text x="330" y="535.26" font-size="11" text-anchor="end" fill="#111" stroke="#111" stroke-width="0.1" >60</text>
<line x1="334.7" y1="519.03" x2="333.1" y2="519.03" stroke="#777" stroke-width="1.0" />
<line x1="334.7" y1="506.8" x2="331.9" y2="506.8" stroke="#777" stroke-width="1.0" />
<text x="330" y="510.8" font-size="11" text-anchor="end" fill="#111" stroke="#111" stroke-width="0.1" >70</text>
<line x1="337.68" y1="678" x2="337.68" y2="679.6" stroke="#777" stroke-width="1.0" />
<line x1="343.55" y1="678" x2="343.55" y2="679.6" stroke="#777" stroke-width="1.0" />
<line x1="348.51" y1="678" x2="348.51" y2="679.6" stroke="#777" stroke-width="1.0" />
<line x1="352.81" y1="678" x2="352.81" y2="679.6" stroke="#777" stroke-width="1.0" />
<line x1="356.61" y1="678" x2="356.61" y2="679.6" stroke="#777" stroke-width="1.0" />
<line x1="360" y1="678" x2="360" y2="680.8" stroke="#777" stroke-width="1.0" />
<line x1="382.32" y1="678" x2="382.32" y2="679.6" stroke="#777" stroke-width="1.0" />
<line x1="395.38" y1="678" x2="395.38" y2="679.6" stroke="#777" stroke-width="1.0" />
<line x1="404.64" y1="678" x2="404.64" y2="679.6" stroke="#777" stroke-width="1.0" />
<line x1="411.83" y1="678" x2="411.83" y2="679.6" stroke="#777" stroke-width="1.0" />
<line x1="417.7" y1="678" x2="417.7" y2="679.6" stroke="#777" stroke-width="1.0" />
<line x1="422.66" y1="678" x2="422.66" y2="679.6" stroke="#777" stroke-width="1.0" />
<line x1="426.96" y1="678" x2="426.96" y2="679.6" stroke="#777" stroke-width="1.0" />
<line x1="430.76" y1="678" x2="430.76" y2="679.6" stroke="#777" stroke-width="1.0" />
<line x1="434.15" y1="678" x2="434.15" y2="680.8" stroke="#777" stroke-width="1.0" />
<line x1="456.47" y1="678" x2="456.47" y2="679.6" stroke="#777" stroke-width="1.0" />
<line x1="469.53" y1="678" x2="469.53" y2="679.6" stroke="#777" stroke-width="1.0" />
<line x1="478.79" y1="678" x2="478.79" y2="679.6" stroke="#777" stroke-width="1.0" />
<line x1="485.98" y1="678" x2="485.98" y2="679.6" stroke="#777" stroke-width="1.0" />
<line x1="491.85" y1="678" x2="491.85" y2="679.6" stroke="#777" stroke-width="1.0" />
<line x1="496.81" y1="678" x2="496.81" y2="679.6" stroke="#777" stroke-width="1.0" />
<line x1="501.11" y1="678" x2="501.11" y2="679.6" stroke="#777" stroke-width="1.0" />
<line x1="504.91" y1="678" x2="504.91" y2="679.6" stroke="#777" stroke-width="1.0" />
<line x1="508.3" y1="678" x2="508.3" y2="680.8" stroke="#777" stroke-width="1.0" />
<line x1="530.62" y1="678" x2="530.62" y2="679.6" stroke="#777" stroke-width="1.0" />
<line x1="543.68" y1="678" x2="543.68" y2="679.6" stroke="#777" stroke-width="1.0" />
<rect x="334.7" y="506.8" width="210.6" height="171.2" stroke="#777" stroke-width="1.3" fill="none"/>
<text x="360" y="692" font-size="10.5" text-anchor="middle" fill="#111" stroke="#111" stroke-width="0.1" >1E-3</text>
<text x="434.15" y="692" font-size="10.5" text-anchor="middle" fill="#111" stroke="#111" stroke-width="0.1" >0.01</text>
<text x="508.3" y="692" font-size="10.5" text-anchor="middle" fill="#111" stroke="#111" stroke-width="0.1" >0.1</text>
<text x="378.5" y="705.5" font-size="10.8" text-anchor="start" fill="#111" stroke="#111" stroke-width="0.15" >Hysteresis/V</text>
<text x="441" y="708" font-size="6.8" text-anchor="start" fill="#111" >G</text>
<text x="448.5" y="705.5" font-size="10.8" text-anchor="start" fill="#111" stroke="#111" stroke-width="0.15" >range (V/V)</text>
<g transform="translate(315.5 633) rotate(-90)"><text x="0" y="0" font-size="10.8" fill="#111" stroke="#111" stroke-width="0.25">Mobility (cm<tspan font-size="7" dy="-4">2</tspan><tspan dy="4" font-size="10.8">/Vs)</tspan></text></g>
<text x="0" y="0" font-size="22.5" fill="#111" stroke="#111" stroke-width="0.25" transform="translate(294 520.6) scale(0.9 1)">(f)</text>
<polygon points="486,507.7 487.04,510.47 489.99,510.6 487.68,512.45 488.47,515.3 486,513.66 483.53,515.3 484.32,512.45 482.01,510.6 484.96,510.47" fill="#ff0000"/>
<text x="495" y="514" font-size="6.8" text-anchor="start" fill="#333" >This work</text>
<circle cx="486" cy="520.01" r="3.2" fill="#ff00ff"/>
<text x="495" y="522.11" font-size="6.8" text-anchor="start" fill="#333" >Wang 2014</text>
<circle cx="486" cy="528.12" r="3.2" fill="#800000"/>
<text x="495" y="530.22" font-size="6.8" text-anchor="start" fill="#333" >Tan 2022</text>
<circle cx="486" cy="536.23" r="3.2" fill="#00ff00"/>
<text x="495" y="538.33" font-size="6.8" text-anchor="start" fill="#333" >Yang 2023</text>
<circle cx="486" cy="544.34" r="3.2" fill="#008000"/>
<text x="495" y="546.44" font-size="6.8" text-anchor="start" fill="#333" >Xu 2017</text>
<circle cx="486" cy="552.45" r="3.2" fill="#000080"/>
<text x="495" y="554.55" font-size="6.8" text-anchor="start" fill="#333" >Yang 2017</text>
<circle cx="486" cy="560.56" r="3.2" fill="#0000ff"/>
<text x="495" y="562.66" font-size="6.8" text-anchor="start" fill="#333" >Wei 2020</text>
<circle cx="486" cy="568.67" r="3.2" fill="#00ffff"/>
<text x="495" y="570.77" font-size="6.8" text-anchor="start" fill="#333" >Salazar 2020</text>
<circle cx="486" cy="576.78" r="3.2" fill="#800000"/>
<text x="495" y="578.88" font-size="6.8" text-anchor="start" fill="#333" >Schneider 2018</text>
<circle cx="486" cy="584.89" r="3.2" fill="#808000"/>
<text x="495" y="586.99" font-size="6.8" text-anchor="start" fill="#333" >Geier 2013</text>
<circle cx="460" cy="611.9" r="3.3" fill="#800080"/>
<circle cx="471.2" cy="616" r="3.3" fill="#008000"/>
<circle cx="450.5" cy="638.8" r="3.3" fill="#000080"/>
<circle cx="459.6" cy="653.5" r="3.3" fill="#800000"/>
<circle cx="434.1" cy="656" r="3.3" fill="#0000ff"/>
<circle cx="453.7" cy="655.7" r="3.3" fill="#00ffff"/>
<circle cx="503.2" cy="673.2" r="3.3" fill="#ff00ff"/>
<circle cx="530.4" cy="670.5" r="3.3" fill="#808000"/>
<circle cx="417.5" cy="581.7" r="3.3" fill="#00ff00"/>
<polygon points="389.3,524.1 390.48,527.27 393.87,527.42 391.22,529.52 392.12,532.78 389.3,530.92 386.48,532.78 387.38,529.52 384.73,527.42 388.12,527.27" fill="#ff0000"/>
<path d="M55.5,36.2 L56.7,36.3 L58.0,36.5 L59.2,36.7 L60.4,36.9 L61.6,37.1 L62.9,37.3 L64.1,37.5 L65.3,37.8 L66.5,38.1 L67.7,38.4 L68.9,38.7 L70.0,39.0 L71.2,39.3 L72.4,39.7 L73.6,40.0 L74.7,40.4 L75.9,40.8 L77.0,41.2 L78.2,41.6 L79.3,42.0 L80.5,42.5 L81.6,42.9 L82.7,43.4 L83.8,43.9 L84.9,44.4 L86.0,44.9 L87.1,45.5 L88.2,46.0 L89.3,46.6 L90.3,47.1 L91.4,47.7 L92.5,48.3 L93.5,48.9 L94.5,49.5 L95.6,50.2 L96.6,50.8 L97.6,51.5 L98.6,52.1 L99.6,52.8 L100.6,53.5 L101.6,54.2 L102.5,54.9 L103.5,55.7 L104.4,56.4 L105.4,57.2 L106.3,57.9 L107.2,58.7 L108.1,59.5 L109.0,60.3 L109.9,61.1 L110.8,61.9 L111.7,62.7 L112.5,63.6 L113.4,64.4 L114.2,65.3 L115.0,66.2 L115.9,67.1 L116.7,67.9 L117.5,68.9 L118.2,69.8 L119.0,70.7 L119.8,71.6 L120.5,72.6 L121.2,73.5 L122.0,74.5 L122.7,75.4 L123.4,76.4 L124.1,77.4 L124.7,78.4 L125.4,79.4 L126.0,80.4 L126.7,81.4 L127.3,82.5 L127.9,83.5 L128.5,84.6 L129.1,85.6 L129.6,86.7 L130.2,87.8 L130.7,88.8 L131.3,89.9 L131.8,91.0 L132.3,92.1 L132.8,93.2 L133.3,94.3 L133.7,95.4 L134.2,96.6 L134.7,97.7 L135.1,98.8 L135.5,100.0 L136.0,101.1 L136.4,102.3 L136.8,103.4 L137.2,104.6 L137.6,105.7 L138.0,106.9 L138.3,108.1 L138.7,109.2 L139.1,110.4 L139.4,111.6 L139.8,112.8 L140.1,114.0 L140.5,115.1 L140.8,116.3 L141.1,117.5 L141.5,118.7 L141.8,119.9 L142.1,121.1 L142.4,122.3 L142.7,123.5 L143.0,124.7 L143.3,125.9 L143.6,127.1 L143.9,128.3 L144.2,129.5 L144.5,130.6 L144.8,131.8 L145.1,133.0 L145.4,134.2 L145.7,135.4 L145.9,136.6 L146.2,137.8 L146.5,139.0 L146.8,140.2 L147.1,141.3 L147.4,142.5 L147.6,143.7 L147.9,144.9 L148.2,146.0 L148.5,147.2 L148.7,148.4 L149.0,149.6 L149.2,150.7 L149.5,151.9 L149.7,153.1 L150.0,154.3 L150.2,155.4 L150.4,156.6 L150.6,157.8 L150.8,159.0 L151.0,160.2 L151.2,161.4 L151.3,162.6 L151.5,163.7 L151.6,164.9 L151.7,166.1 L151.8,167.4 L151.9,168.6 L152.0,169.8 L152.0,171.0" fill="none" stroke="#3a3a3a" stroke-width="0.9" stroke-linejoin="round" stroke-linecap="round" />
<path d="M55.5,36.2 L56.7,36.5 L57.9,36.7 L59.1,37.0 L60.3,37.3 L61.4,37.6 L62.6,38.0 L63.8,38.3 L65.0,38.6 L66.1,39.0 L67.3,39.4 L68.5,39.7 L69.6,40.1 L70.8,40.5 L72.0,40.9 L73.1,41.4 L74.2,41.8 L75.4,42.2 L76.5,42.7 L77.7,43.2 L78.8,43.6 L79.9,44.1 L81.0,44.6 L82.1,45.1 L83.2,45.7 L84.3,46.2 L85.4,46.8 L86.4,47.3 L87.5,47.9 L88.6,48.5 L89.6,49.1 L90.7,49.7 L91.7,50.3 L92.7,51.0 L93.7,51.6 L94.7,52.3 L95.7,52.9 L96.7,53.6 L97.7,54.3 L98.6,55.0 L99.6,55.8 L100.5,56.5 L101.5,57.2 L102.4,58.0 L103.3,58.8 L104.2,59.6 L105.1,60.4 L105.9,61.2 L106.8,62.0 L107.7,62.8 L108.5,63.7 L109.3,64.5 L110.1,65.4 L110.9,66.2 L111.7,67.1 L112.5,68.0 L113.3,68.9 L114.1,69.9 L114.8,70.8 L115.6,71.7 L116.3,72.7 L117.0,73.6 L117.7,74.6 L118.4,75.5 L119.1,76.5 L119.8,77.5 L120.4,78.5 L121.1,79.5 L121.7,80.5 L122.4,81.5 L123.0,82.6 L123.6,83.6 L124.2,84.6 L124.8,85.7 L125.4,86.7 L125.9,87.8 L126.5,88.9 L127.1,89.9 L127.6,91.0 L128.1,92.1 L128.6,93.2 L129.1,94.3 L129.6,95.4 L130.1,96.5 L130.6,97.6 L131.1,98.7 L131.5,99.9 L132.0,101.0 L132.4,102.1 L132.8,103.3 L133.3,104.4 L133.7,105.5 L134.1,106.7 L134.5,107.8 L134.9,109.0 L135.2,110.2 L135.6,111.3 L136.0,112.5 L136.3,113.7 L136.6,114.8 L137.0,116.0 L137.3,117.2 L137.6,118.4 L137.9,119.5 L138.2,120.7 L138.5,121.9 L138.8,123.1 L139.1,124.3 L139.3,125.5 L139.6,126.7 L139.9,127.9 L140.1,129.1 L140.4,130.3 L140.6,131.5 L140.8,132.7 L141.0,133.9 L141.3,135.1 L141.5,136.3 L141.7,137.5 L141.9,138.7 L142.1,139.9 L142.2,141.1 L142.4,142.3 L142.6,143.5 L142.8,144.8 L142.9,146.0 L143.1,147.2 L143.2,148.4 L143.4,149.6 L143.5,150.8 L143.7,152.0 L143.8,153.2 L143.9,154.4 L144.1,155.6 L144.2,156.8 L144.3,158.0 L144.4,159.2 L144.5,160.4 L144.6,161.6 L144.7,162.7 L144.8,163.9 L144.9,165.1 L145.0,166.3 L145.1,167.5 L145.1,168.7 L145.2,169.8 L145.3,171.0" fill="none" stroke="#3a3a3a" stroke-width="0.9" stroke-linejoin="round" stroke-linecap="round" />
<path d="M149.8,171.0 L149.9,169.8 L150.0,168.6 L150.1,167.3 L150.3,166.1 L150.4,164.9 L150.6,163.7 L150.7,162.5 L150.9,161.4 L151.1,160.2 L151.3,159.0 L151.5,157.8 L151.8,156.7 L152.0,155.5 L152.2,154.3 L152.5,153.2 L152.7,152.0 L153.0,150.8 L153.3,149.7 L153.6,148.5 L153.9,147.4 L154.1,146.2 L154.4,145.0 L154.7,143.9 L155.0,142.7 L155.3,141.6 L155.7,140.4 L156.0,139.2 L156.3,138.1 L156.6,136.9 L156.9,135.7 L157.2,134.5 L157.5,133.4 L157.9,132.2 L158.2,131.0 L158.5,129.8 L158.8,128.6 L159.1,127.4 L159.4,126.2 L159.8,125.0 L160.1,123.8 L160.4,122.6 L160.7,121.4 L161.1,120.2 L161.4,118.9 L161.8,117.7 L162.1,116.5 L162.4,115.3 L162.8,114.1 L163.2,112.9 L163.5,111.7 L163.9,110.5 L164.3,109.4 L164.7,108.2 L165.1,107.0 L165.5,105.8 L165.9,104.6 L166.3,103.5 L166.7,102.3 L167.2,101.2 L167.6,100.0 L168.1,98.9 L168.6,97.8 L169.1,96.6 L169.6,95.5 L170.1,94.4 L170.6,93.3 L171.1,92.2 L171.7,91.2 L172.2,90.1 L172.8,89.0 L173.4,88.0 L174.0,87.0 L174.6,86.0 L175.2,84.9 L175.9,84.0 L176.6,83.0 L177.2,82.0 L177.9,81.1 L178.7,80.1 L179.4,79.2 L180.1,78.3 L180.9,77.4 L181.7,76.5 L182.5,75.7 L183.3,74.8 L184.1,74.0 L185.0,73.2 L185.8,72.3 L186.7,71.6 L187.6,70.8 L188.5,70.0 L189.4,69.2 L190.3,68.5 L191.2,67.7 L192.2,67.0 L193.1,66.3 L194.1,65.6 L195.1,64.9 L196.1,64.2 L197.1,63.6 L198.1,62.9 L199.1,62.3 L200.2,61.6 L201.2,61.0 L202.2,60.4 L203.3,59.8 L204.4,59.2 L205.4,58.6 L206.5,58.1 L207.6,57.5 L208.7,56.9 L209.8,56.4 L210.9,55.9 L212.0,55.3 L213.1,54.8 L214.3,54.3 L215.4,53.8 L216.5,53.3 L217.7,52.8 L218.8,52.4 L220.0,51.9 L221.1,51.4 L222.3,51.0 L223.4,50.5 L224.6,50.1 L225.7,49.7 L226.9,49.2 L228.1,48.8 L229.2,48.4 L230.4,48.0 L231.5,47.6 L232.7,47.2 L233.9,46.8 L235.0,46.5 L236.2,46.1 L237.4,45.7 L238.5,45.4 L239.7,45.0 L240.9,44.7 L242.0,44.3 L243.2,44.0 L244.3,43.6 L245.5,43.3 L246.6,43.0 L247.7,42.6 L248.9,42.3 L250.0,42.0" fill="none" stroke="#3a3a3a" stroke-width="0.9" stroke-linejoin="round" stroke-linecap="round" />
<path d="M152.5,171.0 L152.5,169.8 L152.6,168.5 L152.6,167.3 L152.7,166.1 L152.8,164.9 L152.9,163.7 L153.0,162.5 L153.2,161.3 L153.3,160.1 L153.5,158.9 L153.7,157.7 L153.9,156.6 L154.1,155.4 L154.4,154.2 L154.6,153.0 L154.8,151.9 L155.1,150.7 L155.4,149.5 L155.7,148.4 L155.9,147.2 L156.2,146.0 L156.5,144.9 L156.8,143.7 L157.2,142.6 L157.5,141.4 L157.8,140.2 L158.1,139.1 L158.5,137.9 L158.8,136.8 L159.1,135.6 L159.5,134.4 L159.8,133.3 L160.2,132.1 L160.5,130.9 L160.9,129.8 L161.2,128.6 L161.6,127.4 L161.9,126.2 L162.3,125.1 L162.6,123.9 L163.0,122.7 L163.4,121.5 L163.7,120.4 L164.1,119.2 L164.5,118.0 L164.9,116.8 L165.3,115.7 L165.6,114.5 L166.0,113.3 L166.4,112.1 L166.8,111.0 L167.2,109.8 L167.6,108.6 L168.0,107.5 L168.5,106.3 L168.9,105.1 L169.3,104.0 L169.7,102.8 L170.2,101.7 L170.6,100.5 L171.1,99.4 L171.5,98.2 L172.0,97.1 L172.5,95.9 L173.0,94.8 L173.5,93.7 L174.0,92.6 L174.5,91.5 L175.0,90.4 L175.6,89.4 L176.2,88.3 L176.8,87.3 L177.4,86.3 L178.0,85.2 L178.6,84.3 L179.3,83.3 L180.0,82.3 L180.7,81.4 L181.4,80.4 L182.1,79.5 L182.9,78.6 L183.7,77.7 L184.4,76.9 L185.2,76.0 L186.1,75.2 L186.9,74.3 L187.7,73.5 L188.6,72.7 L189.5,71.9 L190.4,71.1 L191.3,70.4 L192.2,69.6 L193.1,68.9 L194.0,68.2 L195.0,67.4 L195.9,66.7 L196.9,66.0 L197.9,65.4 L198.9,64.7 L199.9,64.0 L200.9,63.4 L201.9,62.7 L203.0,62.1 L204.0,61.5 L205.1,60.9 L206.1,60.3 L207.2,59.7 L208.3,59.1 L209.3,58.5 L210.4,58.0 L211.5,57.4 L212.6,56.9 L213.7,56.3 L214.8,55.8 L216.0,55.3 L217.1,54.8 L218.2,54.2 L219.3,53.7 L220.5,53.2 L221.6,52.8 L222.7,52.3 L223.9,51.8 L225.0,51.3 L226.2,50.9 L227.3,50.4 L228.5,49.9 L229.6,49.5 L230.8,49.0 L231.9,48.6 L233.0,48.2 L234.2,47.7 L235.3,47.3 L236.5,46.9 L237.6,46.5 L238.8,46.0 L239.9,45.6 L241.0,45.2 L242.2,44.8 L243.3,44.4 L244.4,44.0 L245.6,43.6 L246.7,43.2 L247.8,42.8 L248.9,42.4 L250.0,42.0" fill="none" stroke="#3a3a3a" stroke-width="0.9" stroke-linejoin="round" stroke-linecap="round" />
<path d="M145.3,171 L146,164 L146.8,171 L147.8,162 L148.6,171 L150,166 L151,171" fill="none" stroke="#3a3a3a" stroke-width="0.8" stroke-linejoin="round" stroke-linecap="round" />
<path d="M55.6,36.1 L56.0,37.3 L56.4,38.4 L56.7,39.6 L57.1,40.7 L57.5,41.9 L57.9,43.0 L58.2,44.2 L58.6,45.3 L59.0,46.5 L59.3,47.6 L59.7,48.8 L60.1,49.9 L60.4,51.1 L60.8,52.3 L61.1,53.4 L61.5,54.6 L61.8,55.7 L62.2,56.9 L62.6,58.0 L62.9,59.2 L63.3,60.3 L63.6,61.5 L63.9,62.7 L64.3,63.8 L64.6,65.0 L65.0,66.1 L65.3,67.3 L65.7,68.4 L66.0,69.6 L66.4,70.7 L66.7,71.9 L67.1,73.1 L67.4,74.2 L67.8,75.4 L68.1,76.5 L68.5,77.7 L68.8,78.8 L69.2,80.0 L69.5,81.1 L69.9,82.3 L70.2,83.4 L70.6,84.6 L70.9,85.7 L71.3,86.9 L71.6,88.0 L72.0,89.2 L72.4,90.3 L72.7,91.5 L73.1,92.6 L73.5,93.8 L73.8,94.9 L74.2,96.1 L74.6,97.2 L75.0,98.3 L75.4,99.5 L75.7,100.6 L76.1,101.8 L76.5,102.9 L76.9,104.1 L77.3,105.2 L77.7,106.3 L78.1,107.5 L78.5,108.6 L78.9,109.7 L79.3,110.9 L79.7,112.0 L80.2,113.1 L80.6,114.3 L81.0,115.4 L81.5,116.5 L81.9,117.7 L82.3,118.8 L82.8,119.9 L83.2,121.1 L83.7,122.2 L84.1,123.3 L84.6,124.4 L85.1,125.5 L85.5,126.7 L86.0,127.8 L86.5,128.9 L87.0,130.0 L87.5,131.1 L88.0,132.3 L88.5,133.4 L89.0,134.5 L89.5,135.6 L90.1,136.7 L90.6,137.8 L91.1,138.9 L91.7,140.0 L92.2,141.1 L92.8,142.2 L93.4,143.3 L94.0,144.4 L94.5,145.4 L95.2,146.5 L95.8,147.5 L96.4,148.6 L97.0,149.6 L97.7,150.6 L98.4,151.6 L99.0,152.5 L99.7,153.5 L100.5,154.5 L101.2,155.4 L101.9,156.3 L102.7,157.2 L103.5,158.0 L104.3,158.9 L105.1,159.7 L105.9,160.5 L106.8,161.3 L107.6,162.0 L108.5,162.8 L109.5,163.5 L110.4,164.1 L111.4,164.8 L112.4,165.4 L113.4,166.0 L114.4,166.5 L115.5,167.1 L116.5,167.5 L117.6,168.0 L118.8,168.4 L119.9,168.8 L121.1,169.2 L122.3,169.5 L123.5,169.8 L124.7,170.1 L125.9,170.3 L127.1,170.6 L128.3,170.7 L129.6,170.9 L130.8,171.0 L132.1,171.2 L133.3,171.2 L134.6,171.3 L135.8,171.3 L137.1,171.4 L138.3,171.4 L139.6,171.3 L140.8,171.3 L142.0,171.2" fill="none" stroke="#e03a3a" stroke-width="0.9" stroke-linejoin="round" stroke-linecap="round" />
<path d="M55.3,27.0 L55.7,28.1 L56.2,29.2 L56.6,30.3 L57.0,31.4 L57.4,32.6 L57.8,33.7 L58.3,34.8 L58.7,35.9 L59.1,37.0 L59.5,38.2 L59.9,39.3 L60.3,40.4 L60.7,41.6 L61.1,42.7 L61.4,43.9 L61.8,45.0 L62.2,46.1 L62.6,47.3 L63.0,48.4 L63.4,49.6 L63.7,50.7 L64.1,51.9 L64.5,53.1 L64.9,54.2 L65.2,55.4 L65.6,56.5 L66.0,57.7 L66.3,58.8 L66.7,60.0 L67.1,61.2 L67.5,62.3 L67.8,63.5 L68.2,64.7 L68.6,65.8 L68.9,67.0 L69.3,68.2 L69.7,69.3 L70.0,70.5 L70.4,71.7 L70.8,72.8 L71.2,74.0 L71.5,75.2 L71.9,76.3 L72.3,77.5 L72.7,78.7 L73.0,79.8 L73.4,81.0 L73.8,82.2 L74.2,83.4 L74.6,84.5 L75.0,85.7 L75.3,86.8 L75.7,88.0 L76.1,89.2 L76.5,90.3 L76.9,91.5 L77.3,92.7 L77.7,93.8 L78.2,95.0 L78.6,96.1 L79.0,97.3 L79.4,98.4 L79.8,99.6 L80.3,100.7 L80.7,101.9 L81.1,103.0 L81.6,104.2 L82.0,105.3 L82.5,106.5 L82.9,107.6 L83.4,108.8 L83.8,109.9 L84.3,111.0 L84.8,112.2 L85.2,113.3 L85.7,114.4 L86.2,115.5 L86.7,116.7 L87.2,117.8 L87.7,118.9 L88.2,120.0 L88.7,121.1 L89.3,122.2 L89.8,123.3 L90.3,124.4 L90.9,125.5 L91.4,126.6 L92.0,127.7 L92.5,128.8 L93.1,129.9 L93.7,130.9 L94.3,132.0 L94.9,133.1 L95.5,134.2 L96.1,135.2 L96.7,136.3 L97.3,137.3 L97.9,138.4 L98.6,139.4 L99.2,140.5 L99.9,141.5 L100.5,142.5 L101.2,143.5 L101.9,144.5 L102.6,145.5 L103.3,146.5 L104.0,147.5 L104.7,148.5 L105.5,149.4 L106.2,150.4 L107.0,151.3 L107.7,152.2 L108.5,153.1 L109.3,154.0 L110.1,154.9 L110.9,155.7 L111.8,156.6 L112.6,157.4 L113.5,158.2 L114.3,159.0 L115.2,159.8 L116.1,160.5 L117.0,161.2 L118.0,161.9 L118.9,162.6 L119.8,163.3 L120.8,163.9 L121.8,164.5 L122.8,165.1 L123.8,165.7 L124.8,166.3 L125.9,166.8 L126.9,167.3 L128.0,167.7 L129.1,168.2 L130.2,168.6 L131.4,169.0 L132.5,169.3 L133.7,169.7 L134.9,170.0 L136.1,170.2 L137.3,170.5 L138.5,170.7 L139.8,170.9 L141.1,171.0 L142.4,171.1 L143.7,171.2 L145.0,171.2" fill="none" stroke="#e03a3a" stroke-width="0.9" stroke-linejoin="round" stroke-linecap="round" />
<path d="M55.3,27 L104.6,171.2" fill="none" stroke="#3a3a3a" stroke-width="0.9" stroke-dasharray="1.6,2.4" stroke-linejoin="round" stroke-linecap="round" />
<path d="M170.4,171.2 L171.7,171.0 L172.9,170.7 L174.1,170.5 L175.3,170.2 L176.6,169.9 L177.7,169.6 L178.9,169.2 L180.1,168.9 L181.3,168.5 L182.4,168.1 L183.6,167.7 L184.7,167.2 L185.8,166.8 L186.9,166.3 L188.0,165.8 L189.1,165.3 L190.2,164.8 L191.2,164.2 L192.3,163.7 L193.3,163.1 L194.3,162.5 L195.4,161.9 L196.4,161.2 L197.4,160.6 L198.4,159.9 L199.4,159.3 L200.3,158.6 L201.3,157.9 L202.3,157.2 L203.2,156.4 L204.1,155.7 L205.1,154.9 L206.0,154.1 L206.9,153.4 L207.8,152.6 L208.7,151.8 L209.6,150.9 L210.5,150.1 L211.3,149.3 L212.2,148.4 L213.0,147.5 L213.9,146.7 L214.7,145.8 L215.5,144.9 L216.4,144.0 L217.2,143.1 L218.0,142.1 L218.8,141.2 L219.6,140.3 L220.3,139.3 L221.1,138.4 L221.9,137.4 L222.6,136.4 L223.4,135.4 L224.1,134.5 L224.9,133.5 L225.6,132.5 L226.3,131.5 L227.0,130.4 L227.8,129.4 L228.5,128.4 L229.2,127.4 L229.9,126.4 L230.6,125.3 L231.2,124.3 L231.9,123.2 L232.6,122.2 L233.2,121.1 L233.9,120.1 L234.6,119.0 L235.2,118.0 L235.9,116.9 L236.5,115.9 L237.1,114.8 L237.8,113.7 L238.4,112.7 L239.0,111.6 L239.6,110.6 L240.2,109.5 L240.8,108.4 L241.4,107.4 L242.0,106.3 L242.6,105.2 L243.2,104.2 L243.8,103.1 L244.4,102.1 L245.0,101.0 L245.5,100.0 L246.1,98.9 L246.7,97.9 L247.2,96.8 L247.8,95.8 L248.3,94.8 L248.9,93.7 L249.5,92.7 L250.0,91.7" fill="none" stroke="#e03a3a" stroke-width="0.9" stroke-linejoin="round" stroke-linecap="round" />
<path d="M175.0,171.2 L176.3,171.0 L177.5,170.7 L178.7,170.4 L179.9,170.1 L181.1,169.8 L182.3,169.4 L183.5,169.1 L184.7,168.7 L185.8,168.2 L187.0,167.8 L188.1,167.4 L189.2,166.9 L190.3,166.4 L191.4,165.9 L192.5,165.3 L193.6,164.8 L194.6,164.2 L195.7,163.6 L196.7,163.0 L197.7,162.4 L198.7,161.8 L199.7,161.1 L200.7,160.5 L201.7,159.8 L202.7,159.1 L203.6,158.3 L204.6,157.6 L205.5,156.9 L206.4,156.1 L207.3,155.3 L208.3,154.5 L209.2,153.7 L210.0,152.9 L210.9,152.1 L211.8,151.2 L212.6,150.4 L213.5,149.5 L214.3,148.6 L215.2,147.8 L216.0,146.9 L216.8,146.0 L217.6,145.0 L218.4,144.1 L219.2,143.2 L220.0,142.2 L220.7,141.2 L221.5,140.3 L222.3,139.3 L223.0,138.3 L223.8,137.3 L224.5,136.3 L225.2,135.3 L225.9,134.3 L226.6,133.3 L227.4,132.3 L228.0,131.2 L228.7,130.2 L229.4,129.1 L230.1,128.1 L230.8,127.0 L231.4,126.0 L232.1,124.9 L232.7,123.9 L233.4,122.8 L234.0,121.7 L234.7,120.6 L235.3,119.6 L235.9,118.5 L236.5,117.4 L237.1,116.3 L237.7,115.2 L238.3,114.2 L238.9,113.1 L239.5,112.0 L240.1,110.9 L240.7,109.8 L241.3,108.7 L241.9,107.6 L242.4,106.6 L243.0,105.5 L243.5,104.4 L244.1,103.3 L244.7,102.2 L245.2,101.2 L245.8,100.1 L246.3,99.0 L246.8,98.0 L247.4,96.9 L247.9,95.9 L248.4,94.8 L249.0,93.8 L249.5,92.7 L250.0,91.7" fill="none" stroke="#e03a3a" stroke-width="0.9" stroke-linejoin="round" stroke-linecap="round" />
<path d="M205.3,171.2 L250,91.7" fill="none" stroke="#3a3a3a" stroke-width="0.9" stroke-dasharray="1.6,2.4" stroke-linejoin="round" stroke-linecap="round" />
<path d="M328.1,19.2 L329.2,19.5 L330.4,19.8 L331.6,20.1 L332.7,20.4 L333.9,20.7 L335.0,21.0 L336.2,21.3 L337.4,21.7 L338.5,22.0 L339.7,22.3 L340.9,22.7 L342.1,23.0 L343.2,23.4 L344.4,23.7 L345.6,24.1 L346.7,24.4 L347.9,24.8 L349.1,25.2 L350.3,25.6 L351.4,26.0 L352.6,26.4 L353.8,26.8 L354.9,27.2 L356.1,27.6 L357.2,28.0 L358.4,28.5 L359.5,28.9 L360.7,29.4 L361.8,29.8 L363.0,30.3 L364.1,30.8 L365.2,31.3 L366.4,31.8 L367.5,32.3 L368.6,32.8 L369.7,33.3 L370.8,33.8 L371.9,34.3 L373.0,34.9 L374.1,35.4 L375.2,36.0 L376.3,36.6 L377.4,37.2 L378.4,37.8 L379.5,38.4 L380.5,39.0 L381.6,39.6 L382.6,40.2 L383.6,40.9 L384.6,41.5 L385.6,42.2 L386.6,42.9 L387.6,43.5 L388.6,44.2 L389.6,45.0 L390.5,45.7 L391.5,46.4 L392.4,47.1 L393.3,47.9 L394.2,48.7 L395.1,49.5 L396.0,50.2 L396.9,51.0 L397.8,51.9 L398.6,52.7 L399.4,53.5 L400.3,54.4 L401.1,55.3 L401.9,56.1 L402.7,57.0 L403.4,57.9 L404.2,58.8 L404.9,59.8 L405.7,60.7 L406.4,61.7 L407.1,62.6 L407.8,63.6 L408.5,64.6 L409.2,65.6 L409.8,66.6 L410.5,67.6 L411.1,68.6 L411.7,69.7 L412.3,70.7 L412.9,71.8 L413.5,72.8 L414.1,73.9 L414.7,75.0 L415.2,76.1 L415.8,77.2 L416.3,78.3 L416.9,79.4 L417.4,80.5 L417.9,81.6 L418.4,82.7 L418.9,83.9 L419.4,85.0 L419.8,86.1 L420.3,87.3 L420.8,88.4 L421.2,89.6 L421.6,90.8 L422.1,91.9 L422.5,93.1 L422.9,94.3 L423.3,95.4 L423.7,96.6 L424.1,97.8 L424.5,99.0 L424.9,100.2 L425.2,101.3 L425.6,102.5 L425.9,103.7 L426.3,104.9 L426.6,106.1 L427.0,107.3 L427.3,108.5 L427.6,109.6 L428.0,110.8 L428.3,112.0 L428.6,113.2 L428.9,114.4 L429.2,115.6 L429.5,116.7 L429.8,117.9 L430.0,119.1 L430.3,120.3 L430.6,121.4 L430.9,122.6 L431.1,123.7 L431.4,124.9 L431.6,126.1 L431.9,127.2" fill="none" stroke="#f24ef2" stroke-width="1.0" stroke-linejoin="round" stroke-linecap="round" />
<path d="M328.1,19.2 L329.2,19.5 L330.4,19.8 L331.5,20.2 L332.7,20.5 L333.8,20.9 L335.0,21.2 L336.1,21.5 L337.3,21.9 L338.4,22.3 L339.6,22.6 L340.8,23.0 L341.9,23.4 L343.1,23.8 L344.2,24.2 L345.4,24.6 L346.5,25.0 L347.7,25.4 L348.9,25.8 L350.0,26.2 L351.2,26.6 L352.3,27.1 L353.5,27.5 L354.6,28.0 L355.8,28.4 L356.9,28.9 L358.0,29.4 L359.2,29.8 L360.3,30.3 L361.4,30.8 L362.6,31.3 L363.7,31.8 L364.8,32.3 L365.9,32.9 L367.0,33.4 L368.1,33.9 L369.2,34.5 L370.3,35.0 L371.4,35.6 L372.5,36.2 L373.6,36.8 L374.6,37.4 L375.7,38.0 L376.8,38.6 L377.8,39.2 L378.9,39.8 L379.9,40.5 L380.9,41.1 L381.9,41.8 L382.9,42.4 L383.9,43.1 L384.9,43.8 L385.9,44.5 L386.9,45.2 L387.9,45.9 L388.8,46.6 L389.8,47.4 L390.7,48.1 L391.6,48.9 L392.5,49.6 L393.4,50.4 L394.3,51.2 L395.2,52.0 L396.1,52.8 L396.9,53.6 L397.8,54.5 L398.6,55.3 L399.4,56.2 L400.3,57.1 L401.0,57.9 L401.8,58.8 L402.6,59.7 L403.4,60.6 L404.1,61.6 L404.8,62.5 L405.5,63.5 L406.3,64.4 L407.0,65.4 L407.6,66.4 L408.3,67.4 L409.0,68.4 L409.6,69.4 L410.2,70.4 L410.9,71.4 L411.5,72.4 L412.1,73.5 L412.7,74.5 L413.3,75.6 L413.8,76.7 L414.4,77.7 L415.0,78.8 L415.5,79.9 L416.0,81.0 L416.6,82.1 L417.1,83.2 L417.6,84.3 L418.1,85.4 L418.6,86.5 L419.0,87.7 L419.5,88.8 L420.0,90.0 L420.4,91.1 L420.9,92.2 L421.3,93.4 L421.8,94.6 L422.2,95.7 L422.6,96.9 L423.0,98.0 L423.4,99.2 L423.8,100.4 L424.2,101.6 L424.6,102.7 L425.0,103.9 L425.4,105.1 L425.7,106.3 L426.1,107.5 L426.4,108.6 L426.8,109.8 L427.1,111.0 L427.5,112.2 L427.8,113.4 L428.2,114.6 L428.5,115.7 L428.8,116.9 L429.1,118.1 L429.5,119.3 L429.8,120.5 L430.1,121.7 L430.4,122.8 L430.7,124.0 L431.0,125.2 L431.3,126.4 L431.6,127.5 L431.9,128.7 L432.2,129.8 L432.5,131.0 L432.7,132.2 L433.0,133.3 L433.3,134.5 L433.6,135.6" fill="none" stroke="#f24ef2" stroke-width="1.0" stroke-linejoin="round" stroke-linecap="round" />
<path d="M431.9,127.2 L432.7,129.0 L433.4,130.3 L434.0,131.3 L434.6,131.9 L435.1,132.2 L435.6,132.1 L436.1,131.8 L436.5,131.3 L437.0,130.5 L437.4,129.6 L437.8,128.5 L438.1,127.3 L438.5,126.1 L438.9,124.7 L439.3,123.4 L439.7,122.1 L440.2,120.7 L440.6,119.5 L441.1,118.2 L441.6,117.0 L442.1,115.8 L442.6,114.6 L443.2,113.5 L443.7,112.4 L444.3,111.3 L444.9,110.2 L445.5,109.1 L446.1,108.0 L446.7,107.0 L447.4,106.0 L448.0,104.9 L448.7,103.9 L449.3,102.9 L450.0,101.9 L450.7,100.9 L451.4,99.9 L452.1,98.9 L452.8,97.9 L453.5,97.0 L454.2,96.0 L455.0,95.1 L455.7,94.1 L456.5,93.2 L457.3,92.2 L458.0,91.3 L458.8,90.4 L459.6,89.5 L460.4,88.6 L461.3,87.7 L462.1,86.9 L462.9,86.0 L463.8,85.2 L464.6,84.3 L465.5,83.5 L466.4,82.7 L467.3,81.8 L468.2,81.0 L469.1,80.2 L470.0,79.5 L470.9,78.7 L471.9,77.9 L472.8,77.2 L473.8,76.4 L474.7,75.7 L475.7,74.9 L476.7,74.2 L477.6,73.5 L478.6,72.8 L479.6,72.1 L480.6,71.4 L481.6,70.8 L482.6,70.1 L483.7,69.4 L484.7,68.8 L485.7,68.1 L486.8,67.5 L487.8,66.9 L488.9,66.3 L489.9,65.7 L491.0,65.1 L492.1,64.5 L493.1,63.9 L494.2,63.3 L495.3,62.8 L496.4,62.2 L497.5,61.7 L498.6,61.1 L499.7,60.6 L500.8,60.1 L501.9,59.6 L503.0,59.1 L504.1,58.6 L505.3,58.1 L506.4,57.6 L507.5,57.1 L508.6,56.7 L509.8,56.2 L510.9,55.8 L512.0,55.3 L513.2,54.9 L514.3,54.5 L515.5,54.1 L516.6,53.7 L517.8,53.3 L518.9,52.9 L520.1,52.5 L521.2,52.1 L522.4,51.7 L523.5,51.4 L524.7,51.0 L525.8,50.7 L527.0,50.4 L528.1,50.0 L529.3,49.7" fill="none" stroke="#f24ef2" stroke-width="1.0" stroke-linejoin="round" stroke-linecap="round" />
<path d="M433.6,135.6 L434.1,134.5 L434.6,133.4 L435.1,132.3 L435.6,131.2 L436.1,130.1 L436.6,129.0 L437.2,127.8 L437.7,126.8 L438.2,125.7 L438.8,124.6 L439.3,123.5 L439.9,122.4 L440.4,121.3 L441.0,120.2 L441.6,119.2 L442.2,118.1 L442.7,117.0 L443.3,115.9 L443.9,114.9 L444.6,113.8 L445.2,112.8 L445.8,111.7 L446.4,110.7 L447.1,109.7 L447.7,108.6 L448.4,107.6 L449.0,106.6 L449.7,105.6 L450.4,104.6 L451.0,103.5 L451.7,102.6 L452.4,101.6 L453.1,100.6 L453.8,99.6 L454.6,98.6 L455.3,97.7 L456.0,96.7 L456.8,95.7 L457.5,94.8 L458.3,93.9 L459.1,92.9 L459.8,92.0 L460.6,91.1 L461.4,90.2 L462.2,89.3 L463.0,88.4 L463.8,87.5 L464.7,86.6 L465.5,85.7 L466.3,84.9 L467.2,84.0 L468.1,83.2 L468.9,82.4 L469.8,81.5 L470.7,80.7 L471.6,79.9 L472.5,79.1 L473.4,78.3 L474.3,77.6 L475.3,76.8 L476.2,76.0 L477.1,75.3 L478.1,74.5 L479.1,73.8 L480.0,73.1 L481.0,72.4 L482.0,71.6 L483.0,70.9 L484.0,70.3 L485.0,69.6 L486.0,68.9 L487.0,68.2 L488.0,67.6 L489.1,66.9 L490.1,66.3 L491.1,65.7 L492.2,65.1 L493.2,64.5 L494.3,63.9 L495.4,63.3 L496.4,62.7 L497.5,62.1 L498.6,61.6 L499.7,61.0 L500.8,60.5 L501.9,59.9 L503.0,59.4 L504.1,58.9 L505.2,58.4 L506.3,57.9 L507.4,57.4 L508.5,56.9 L509.7,56.4 L510.8,55.9 L511.9,55.5 L513.1,55.0 L514.2,54.6 L515.3,54.2 L516.5,53.8 L517.6,53.3 L518.8,52.9 L520.0,52.5 L521.1,52.2 L522.3,51.8 L523.4,51.4 L524.6,51.1 L525.8,50.7 L527.0,50.4 L528.1,50.0 L529.3,49.7" fill="none" stroke="#f24ef2" stroke-width="1.0" stroke-linejoin="round" stroke-linecap="round" />
<path d="M328.1,24.0 L329.2,24.3 L330.4,24.7 L331.5,25.0 L332.6,25.3 L333.8,25.7 L334.9,26.0 L336.1,26.3 L337.2,26.7 L338.4,27.0 L339.5,27.3 L340.7,27.7 L341.9,28.0 L343.0,28.4 L344.2,28.7 L345.4,29.1 L346.5,29.4 L347.7,29.8 L348.9,30.1 L350.1,30.5 L351.2,30.9 L352.4,31.2 L353.6,31.6 L354.7,32.0 L355.9,32.4 L357.1,32.8 L358.2,33.2 L359.4,33.6 L360.6,34.0 L361.7,34.4 L362.9,34.8 L364.0,35.2 L365.2,35.7 L366.3,36.1 L367.5,36.6 L368.6,37.0 L369.8,37.5 L370.9,38.0 L372.0,38.5 L373.1,39.0 L374.2,39.5 L375.3,40.0 L376.4,40.5 L377.5,41.1 L378.6,41.6 L379.7,42.2 L380.8,42.8 L381.8,43.4 L382.9,44.0 L383.9,44.6 L384.9,45.2 L386.0,45.8 L387.0,46.5 L387.9,47.2 L388.9,47.8 L389.9,48.5 L390.8,49.3 L391.8,50.0 L392.7,50.7 L393.6,51.5 L394.5,52.3 L395.4,53.1 L396.2,53.9 L397.1,54.8 L397.9,55.6 L398.7,56.5 L399.5,57.3 L400.3,58.2 L401.0,59.1 L401.8,60.1 L402.5,61.0 L403.3,61.9 L404.0,62.9 L404.7,63.9 L405.3,64.9 L406.0,65.9 L406.7,66.9 L407.3,67.9 L408.0,68.9 L408.6,69.9 L409.2,71.0 L409.8,72.0 L410.4,73.1 L410.9,74.2 L411.5,75.3 L412.1,76.4 L412.6,77.4 L413.1,78.6 L413.7,79.7 L414.2,80.8 L414.7,81.9 L415.2,83.0 L415.6,84.2 L416.1,85.3 L416.6,86.4 L417.0,87.6 L417.5,88.7 L417.9,89.9 L418.3,91.0 L418.7,92.2 L419.2,93.3 L419.6,94.5 L419.9,95.7 L420.3,96.8 L420.7,98.0 L421.1,99.2 L421.4,100.3 L421.8,101.5 L422.1,102.7 L422.5,103.8 L422.8,105.0 L423.1,106.2 L423.5,107.4 L423.8,108.5 L424.1,109.7 L424.4,110.9 L424.6,112.1 L424.9,113.3 L425.2,114.5 L425.5,115.6 L425.7,116.8 L426.0,118.0 L426.2,119.2 L426.5,120.4 L426.7,121.6 L426.9,122.8 L427.1,124.0 L427.3,125.2 L427.5,126.4 L427.7,127.6 L427.9,128.8 L428.1,129.9 L428.3,131.1 L428.5,132.3 L428.6,133.5 L428.8,134.7 L429.0,135.9 L429.1,137.1 L429.3,138.3 L429.4,139.5 L429.5,140.7 L429.7,141.9 L429.8,143.1 L429.9,144.3" fill="none" stroke="#48e848" stroke-width="1.0" stroke-linejoin="round" stroke-linecap="round" />
<path d="M328.1,24.0 L329.2,24.4 L330.3,24.8 L331.3,25.2 L332.4,25.6 L333.6,26.0 L334.7,26.4 L335.8,26.8 L336.9,27.1 L338.1,27.5 L339.2,27.9 L340.3,28.3 L341.5,28.7 L342.7,29.0 L343.8,29.4 L345.0,29.8 L346.1,30.2 L347.3,30.6 L348.5,30.9 L349.7,31.3 L350.8,31.7 L352.0,32.1 L353.2,32.5 L354.4,32.9 L355.6,33.3 L356.7,33.7 L357.9,34.1 L359.1,34.5 L360.3,34.9 L361.4,35.3 L362.6,35.8 L363.8,36.2 L364.9,36.6 L366.1,37.1 L367.2,37.5 L368.4,38.0 L369.5,38.5 L370.7,39.0 L371.8,39.5 L372.9,40.0 L374.0,40.5 L375.1,41.0 L376.2,41.5 L377.3,42.1 L378.4,42.6 L379.5,43.2 L380.6,43.8 L381.6,44.4 L382.7,45.0 L383.7,45.6 L384.7,46.2 L385.7,46.9 L386.7,47.5 L387.7,48.2 L388.7,48.9 L389.6,49.6 L390.6,50.3 L391.5,51.1 L392.4,51.8 L393.3,52.6 L394.2,53.4 L395.0,54.2 L395.9,55.0 L396.7,55.9 L397.5,56.7 L398.3,57.6 L399.1,58.5 L399.9,59.4 L400.7,60.3 L401.4,61.3 L402.1,62.2 L402.8,63.2 L403.5,64.1 L404.2,65.1 L404.9,66.1 L405.6,67.1 L406.2,68.1 L406.8,69.2 L407.5,70.2 L408.1,71.3 L408.7,72.3 L409.3,73.4 L409.8,74.5 L410.4,75.6 L410.9,76.7 L411.4,77.8 L412.0,78.9 L412.5,80.0 L413.0,81.1 L413.5,82.2 L413.9,83.4 L414.4,84.5 L414.8,85.7 L415.3,86.8 L415.7,88.0 L416.1,89.2 L416.5,90.3 L416.9,91.5 L417.3,92.7 L417.7,93.8 L418.0,95.0 L418.4,96.2 L418.7,97.4 L419.1,98.6 L419.4,99.8 L419.7,100.9 L420.1,102.1 L420.4,103.3 L420.7,104.5 L421.0,105.6 L421.4,106.8 L421.7,108.0 L422.1,109.1 L422.4,110.3 L422.8,111.4 L423.2,112.6 L423.6,113.7 L424.0,114.8 L424.5,115.9 L424.9,117.0 L425.4,118.1 L425.9,119.2 L426.5,120.2 L427.0,121.3 L427.6,122.3 L428.2,123.3 L428.9,124.3 L429.6,125.3 L430.3,126.3 L431.1,127.2" fill="none" stroke="#48e848" stroke-width="1.0" stroke-linejoin="round" stroke-linecap="round" />
<path d="M429.9,144.3 L430.0,143.1 L430.2,141.8 L430.4,140.6 L430.6,139.4 L430.8,138.1 L431.0,136.9 L431.2,135.7 L431.4,134.5 L431.7,133.3 L432.0,132.1 L432.2,130.9 L432.5,129.7 L432.8,128.5 L433.2,127.3 L433.5,126.1 L433.8,124.9 L434.2,123.7 L434.5,122.6 L434.9,121.4 L435.3,120.2 L435.7,119.1 L436.1,117.9 L436.6,116.8 L437.0,115.7 L437.5,114.5 L437.9,113.4 L438.4,112.3 L438.9,111.2 L439.4,110.1 L439.9,109.0 L440.4,107.9 L441.0,106.8 L441.5,105.7 L442.1,104.6 L442.6,103.6 L443.2,102.5 L443.8,101.4 L444.4,100.4 L445.0,99.4 L445.7,98.3 L446.3,97.3 L446.9,96.3 L447.6,95.3 L448.3,94.3 L448.9,93.3 L449.6,92.3 L450.3,91.3 L451.1,90.3 L451.8,89.3 L452.5,88.4 L453.2,87.4 L454.0,86.5 L454.8,85.6 L455.5,84.6 L456.3,83.7 L457.1,82.8 L457.9,81.9 L458.7,81.0 L459.6,80.1 L460.4,79.3 L461.2,78.4 L462.1,77.5 L462.9,76.7 L463.8,75.8 L464.7,75.0 L465.6,74.2 L466.5,73.4 L467.4,72.6 L468.3,71.8 L469.2,71.0 L470.1,70.2 L471.1,69.5 L472.0,68.7 L473.0,68.0 L473.9,67.2 L474.9,66.5 L475.9,65.8 L476.9,65.1 L477.9,64.4 L478.9,63.7 L479.9,63.0 L480.9,62.3 L481.9,61.6 L482.9,61.0 L484.0,60.3 L485.0,59.7 L486.1,59.1 L487.1,58.5 L488.2,57.9 L489.2,57.3 L490.3,56.7 L491.4,56.1 L492.5,55.5 L493.5,55.0 L494.6,54.4 L495.7,53.9 L496.8,53.3 L497.9,52.8 L499.1,52.3 L500.2,51.8 L501.3,51.3 L502.4,50.8 L503.6,50.3 L504.7,49.9 L505.8,49.4 L507.0,49.0 L508.1,48.5 L509.3,48.1 L510.4,47.7 L511.6,47.3 L512.7,46.9 L513.9,46.5 L515.1,46.1 L516.3,45.8 L517.4,45.4 L518.6,45.1 L519.8,44.7 L521.0,44.4 L522.2,44.1 L523.3,43.8 L524.5,43.5 L525.7,43.2 L526.9,42.9 L528.1,42.7 L529.3,42.4" fill="none" stroke="#48e848" stroke-width="1.0" stroke-linejoin="round" stroke-linecap="round" />
<path d="M431.1,127.2 L431.9,126.4 L432.6,125.5 L433.3,124.6 L433.9,123.7 L434.6,122.7 L435.1,121.7 L435.7,120.7 L436.2,119.6 L436.8,118.6 L437.3,117.5 L437.7,116.4 L438.2,115.3 L438.7,114.2 L439.2,113.1 L439.7,112.0 L440.1,110.9 L440.6,109.8 L441.2,108.7 L441.7,107.5 L442.2,106.4 L442.7,105.3 L443.3,104.2 L443.8,103.1 L444.4,102.1 L445.0,101.0 L445.5,99.9 L446.1,98.8 L446.7,97.7 L447.4,96.7 L448.0,95.6 L448.6,94.6 L449.3,93.5 L449.9,92.5 L450.6,91.5 L451.3,90.4 L452.0,89.4 L452.7,88.4 L453.4,87.4 L454.1,86.5 L454.8,85.5 L455.6,84.5 L456.4,83.6 L457.1,82.6 L457.9,81.7 L458.7,80.8 L459.5,79.9 L460.3,79.0 L461.2,78.2 L462.0,77.3 L462.9,76.4 L463.7,75.6 L464.6,74.8 L465.5,74.0 L466.4,73.2 L467.3,72.4 L468.3,71.6 L469.2,70.8 L470.1,70.1 L471.1,69.3 L472.0,68.6 L473.0,67.9 L474.0,67.2 L475.0,66.5 L476.0,65.8 L477.0,65.1 L478.0,64.4 L479.0,63.8 L480.0,63.1 L481.1,62.5 L482.1,61.9 L483.2,61.2 L484.2,60.6 L485.3,60.0 L486.3,59.4 L487.4,58.8 L488.5,58.3 L489.6,57.7 L490.7,57.1 L491.8,56.6 L492.9,56.1 L494.0,55.5 L495.1,55.0 L496.2,54.5 L497.3,54.0 L498.4,53.5 L499.6,53.0 L500.7,52.5 L501.8,52.0 L503.0,51.5 L504.1,51.1 L505.2,50.6 L506.4,50.2 L507.5,49.7 L508.7,49.3 L509.8,48.9 L511.0,48.4 L512.1,48.0 L513.2,47.6 L514.4,47.2 L515.5,46.8 L516.7,46.4 L517.8,46.0 L519.0,45.6 L520.1,45.3 L521.3,44.9 L522.4,44.5 L523.6,44.2 L524.7,43.8 L525.9,43.4 L527.0,43.1 L528.2,42.7 L529.3,42.4" fill="none" stroke="#48e848" stroke-width="1.0" stroke-linejoin="round" stroke-linecap="round" />
<path d="M52.1,278.4 L53.3,278.6 L54.5,278.8 L55.8,279.1 L57.0,279.3 L58.2,279.6 L59.4,279.9 L60.6,280.2 L61.8,280.5 L62.9,280.8 L64.1,281.2 L65.3,281.5 L66.5,281.9 L67.6,282.2 L68.8,282.6 L69.9,283.0 L71.1,283.4 L72.2,283.8 L73.4,284.3 L74.5,284.7 L75.6,285.2 L76.7,285.7 L77.9,286.1 L79.0,286.6 L80.1,287.1 L81.2,287.7 L82.2,288.2 L83.3,288.7 L84.4,289.3 L85.5,289.9 L86.5,290.4 L87.6,291.0 L88.6,291.6 L89.7,292.2 L90.7,292.9 L91.7,293.5 L92.7,294.1 L93.7,294.8 L94.7,295.4 L95.7,296.1 L96.7,296.8 L97.7,297.5 L98.7,298.2 L99.6,298.9 L100.6,299.7 L101.5,300.4 L102.5,301.1 L103.4,301.9 L104.3,302.7 L105.3,303.4 L106.2,304.2 L107.1,305.0 L107.9,305.8 L108.8,306.6 L109.7,307.5 L110.6,308.3 L111.4,309.1 L112.2,310.0 L113.1,310.9 L113.9,311.7 L114.7,312.6 L115.5,313.5 L116.3,314.4 L117.1,315.3 L117.9,316.2 L118.7,317.1 L119.4,318.1 L120.2,319.0 L120.9,320.0 L121.6,320.9 L122.3,321.9 L123.0,322.8 L123.7,323.8 L124.4,324.8 L125.1,325.8 L125.8,326.8 L126.4,327.8 L127.1,328.8 L127.7,329.9 L128.3,330.9 L128.9,331.9 L129.5,333.0 L130.1,334.0 L130.7,335.1 L131.2,336.2 L131.8,337.2 L132.4,338.3 L132.9,339.4 L133.4,340.5 L134.0,341.6 L134.5,342.7 L135.0,343.8 L135.5,344.9 L135.9,346.0 L136.4,347.1 L136.9,348.3 L137.4,349.4 L137.8,350.5 L138.2,351.6 L138.7,352.8 L139.1,353.9 L139.5,355.1 L139.9,356.2 L140.4,357.4 L140.8,358.5 L141.1,359.7 L141.5,360.8 L141.9,362.0 L142.3,363.2 L142.6,364.3 L143.0,365.5 L143.3,366.7 L143.7,367.9 L144.0,369.0 L144.4,370.2 L144.7,371.4 L145.0,372.5 L145.3,373.7 L145.6,374.9 L145.9,376.1 L146.2,377.2 L146.5,378.4 L146.8,379.6 L147.1,380.8 L147.4,381.9 L147.7,383.1 L147.9,384.3 L148.2,385.5 L148.5,386.6 L148.7,387.8 L149.0,389.0 L149.2,390.1 L149.5,391.3" fill="none" stroke="#f7a23a" stroke-width="1.0" stroke-linejoin="round" stroke-linecap="round" />
<path d="M52.1,278.4 L53.3,278.7 L54.5,278.9 L55.7,279.2 L56.9,279.5 L58.1,279.8 L59.3,280.2 L60.5,280.5 L61.7,280.9 L62.8,281.2 L64.0,281.6 L65.2,282.0 L66.3,282.4 L67.5,282.8 L68.6,283.2 L69.8,283.6 L70.9,284.1 L72.0,284.5 L73.1,285.0 L74.3,285.5 L75.4,286.0 L76.5,286.5 L77.6,287.0 L78.7,287.5 L79.7,288.0 L80.8,288.6 L81.9,289.1 L83.0,289.7 L84.0,290.3 L85.1,290.9 L86.1,291.5 L87.1,292.1 L88.2,292.7 L89.2,293.4 L90.2,294.0 L91.2,294.7 L92.2,295.4 L93.2,296.0 L94.1,296.7 L95.1,297.5 L96.1,298.2 L97.0,298.9 L98.0,299.6 L98.9,300.4 L99.8,301.1 L100.7,301.9 L101.6,302.7 L102.5,303.5 L103.4,304.3 L104.3,305.1 L105.2,305.9 L106.1,306.7 L106.9,307.6 L107.8,308.4 L108.6,309.3 L109.4,310.1 L110.2,311.0 L111.0,311.9 L111.8,312.8 L112.6,313.7 L113.4,314.6 L114.2,315.5 L115.0,316.4 L115.7,317.4 L116.5,318.3 L117.2,319.3 L117.9,320.2 L118.6,321.2 L119.3,322.1 L120.0,323.1 L120.7,324.1 L121.4,325.1 L122.1,326.1 L122.7,327.1 L123.4,328.1 L124.0,329.2 L124.6,330.2 L125.3,331.2 L125.9,332.3 L126.5,333.3 L127.1,334.4 L127.6,335.4 L128.2,336.5 L128.8,337.6 L129.3,338.6 L129.8,339.7 L130.4,340.8 L130.9,341.9 L131.4,343.0 L131.9,344.1 L132.4,345.2 L132.9,346.3 L133.4,347.5 L133.8,348.6 L134.3,349.7 L134.8,350.8 L135.2,352.0 L135.6,353.1 L136.0,354.3 L136.5,355.4 L136.9,356.6 L137.3,357.7 L137.7,358.9 L138.0,360.0 L138.4,361.2 L138.8,362.4 L139.1,363.5 L139.5,364.7 L139.8,365.9 L140.2,367.0 L140.5,368.2 L140.8,369.4 L141.1,370.6 L141.4,371.8 L141.7,373.0 L142.0,374.2 L142.3,375.3 L142.5,376.5 L142.8,377.7 L143.1,378.9 L143.3,380.1 L143.6,381.3 L143.8,382.5 L144.0,383.7 L144.2,384.9 L144.5,386.1 L144.7,387.3 L144.9,388.5 L145.1,389.7 L145.2,390.9 L145.4,392.1 L145.6,393.3 L145.8,394.5 L145.9,395.7 L146.1,396.9 L146.2,398.0 L146.4,399.2 L146.5,400.4 L146.6,401.6 L146.8,402.8 L146.9,404.0 L147.0,405.2 L147.1,406.3 L147.2,407.5 L147.3,408.7" fill="none" stroke="#f7a23a" stroke-width="1.0" stroke-linejoin="round" stroke-linecap="round" />
<path d="M147.3,408.7 L147.4,407.6 L147.6,406.4 L147.7,405.3 L147.8,404.1 L147.9,403.0 L148.0,401.8 L148.1,400.6 L148.3,399.5 L148.4,398.3 L148.5,397.1 L148.6,395.9 L148.7,394.7 L148.8,393.5 L148.9,392.3 L149.0,391.1 L149.1,389.9 L149.3,388.7 L149.4,387.4 L149.5,386.2 L149.6,385.0 L149.7,383.7 L149.8,382.5 L150.0,381.3 L150.1,380.0 L150.2,378.8 L150.4,377.6 L150.5,376.3 L150.6,375.1 L150.8,373.8 L151.0,372.6 L151.1,371.4 L151.3,370.1 L151.4,368.9 L151.6,367.6 L151.8,366.4 L152.0,365.2 L152.2,363.9 L152.4,362.7 L152.6,361.5 L152.8,360.2 L153.0,359.0 L153.3,357.8 L153.5,356.6 L153.8,355.4 L154.0,354.2 L154.3,352.9 L154.6,351.7 L154.8,350.5 L155.1,349.4 L155.4,348.2 L155.8,347.0 L156.1,345.8 L156.4,344.6 L156.8,343.5 L157.2,342.3 L157.5,341.2 L157.9,340.0 L158.3,338.9 L158.7,337.7 L159.2,336.6 L159.6,335.5 L160.1,334.4 L160.5,333.3 L161.0,332.2 L161.5,331.1 L162.0,330.0 L162.6,329.0 L163.1,327.9 L163.7,326.9 L164.2,325.9 L164.8,324.8 L165.4,323.8 L166.1,322.8 L166.7,321.8 L167.4,320.9 L168.0,319.9 L168.7,318.9 L169.4,318.0 L170.2,317.0 L170.9,316.1 L171.6,315.2 L172.4,314.3 L173.2,313.4 L174.0,312.5 L174.8,311.6 L175.6,310.8 L176.4,309.9 L177.2,309.1 L178.1,308.2 L179.0,307.4 L179.8,306.6 L180.7,305.8 L181.6,305.0 L182.5,304.2 L183.5,303.4 L184.4,302.7 L185.3,301.9 L186.3,301.1 L187.2,300.4 L188.2,299.7 L189.2,298.9 L190.2,298.2 L191.2,297.5 L192.2,296.8 L193.2,296.1 L194.2,295.5 L195.3,294.8 L196.3,294.1 L197.4,293.5 L198.4,292.8 L199.5,292.2 L200.5,291.6 L201.6,291.0 L202.7,290.4 L203.8,289.8 L204.9,289.2 L206.0,288.6 L207.1,288.0 L208.2,287.4 L209.3,286.9 L210.4,286.3 L211.5,285.8 L212.7,285.2 L213.8,284.7 L214.9,284.2 L216.1,283.7 L217.2,283.2 L218.3,282.7 L219.5,282.2 L220.6,281.7 L221.8,281.2 L222.9,280.8 L224.1,280.3 L225.2,279.8 L226.4,279.4 L227.5,279.0 L228.7,278.5 L229.8,278.1 L231.0,277.7 L232.2,277.3 L233.3,276.9 L234.5,276.5 L235.6,276.1 L236.8,275.7 L237.9,275.3 L239.1,275.0 L240.2,274.6 L241.3,274.2 L242.5,273.9 L243.6,273.5 L244.8,273.2 L245.9,272.9 L247.0,272.5 L248.1,272.2 L249.3,271.9 L250.4,271.6 L251.5,271.3" fill="none" stroke="#f7a23a" stroke-width="1.0" stroke-linejoin="round" stroke-linecap="round" />
<path d="M149.5,391.3 L149.7,390.2 L149.9,389.0 L150.1,387.9 L150.3,386.8 L150.5,385.6 L150.7,384.5 L150.9,383.3 L151.1,382.1 L151.3,380.9 L151.5,379.8 L151.7,378.6 L151.9,377.4 L152.1,376.2 L152.3,375.0 L152.5,373.8 L152.7,372.6 L152.9,371.4 L153.1,370.2 L153.3,368.9 L153.5,367.7 L153.7,366.5 L153.9,365.3 L154.2,364.1 L154.4,362.8 L154.6,361.6 L154.9,360.4 L155.1,359.2 L155.4,358.0 L155.6,356.8 L155.9,355.5 L156.1,354.3 L156.4,353.1 L156.7,351.9 L157.0,350.7 L157.3,349.5 L157.6,348.3 L157.9,347.1 L158.3,346.0 L158.6,344.8 L159.0,343.6 L159.3,342.4 L159.7,341.3 L160.1,340.1 L160.5,339.0 L160.9,337.8 L161.3,336.7 L161.7,335.5 L162.2,334.4 L162.6,333.3 L163.1,332.2 L163.6,331.1 L164.1,330.0 L164.6,329.0 L165.2,327.9 L165.7,326.9 L166.3,325.8 L166.8,324.8 L167.4,323.8 L168.1,322.8 L168.7,321.8 L169.3,320.8 L170.0,319.8 L170.7,318.9 L171.4,317.9 L172.1,317.0 L172.8,316.0 L173.5,315.1 L174.3,314.2 L175.0,313.3 L175.8,312.4 L176.6,311.6 L177.4,310.7 L178.2,309.9 L179.1,309.0 L179.9,308.2 L180.8,307.4 L181.6,306.6 L182.5,305.8 L183.4,305.0 L184.3,304.2 L185.2,303.4 L186.1,302.6 L187.1,301.9 L188.0,301.1 L189.0,300.4 L189.9,299.7 L190.9,299.0 L191.9,298.3 L192.9,297.6 L193.9,296.9 L194.9,296.2 L195.9,295.5 L196.9,294.9 L198.0,294.2 L199.0,293.6 L200.0,292.9 L201.1,292.3 L202.1,291.7 L203.2,291.1 L204.3,290.5 L205.4,289.9 L206.4,289.3 L207.5,288.7 L208.6,288.1 L209.7,287.6 L210.8,287.0 L211.9,286.5 L213.0,285.9 L214.2,285.4 L215.3,284.9 L216.4,284.4 L217.5,283.8 L218.7,283.3 L219.8,282.8 L220.9,282.3 L222.1,281.9 L223.2,281.4 L224.3,280.9 L225.5,280.4 L226.6,280.0 L227.8,279.5 L228.9,279.1 L230.0,278.6 L231.2,278.2 L232.3,277.8 L233.5,277.4 L234.6,276.9 L235.8,276.5 L236.9,276.1 L238.0,275.7 L239.2,275.3 L240.3,274.9 L241.4,274.5 L242.6,274.2 L243.7,273.8 L244.8,273.4 L245.9,273.1 L247.1,272.7 L248.2,272.3 L249.3,272.0 L250.4,271.6 L251.5,271.3" fill="none" stroke="#f7a23a" stroke-width="1.0" stroke-linejoin="round" stroke-linecap="round" />
<path d="M52.1,288.9 L53.3,289.2 L54.4,289.6 L55.6,289.9 L56.8,290.3 L57.9,290.6 L59.1,291.0 L60.3,291.4 L61.4,291.8 L62.6,292.2 L63.7,292.6 L64.8,293.1 L66.0,293.5 L67.1,294.0 L68.2,294.4 L69.4,294.9 L70.5,295.4 L71.6,295.9 L72.7,296.4 L73.8,296.9 L74.9,297.5 L76.0,298.0 L77.1,298.6 L78.2,299.1 L79.3,299.7 L80.4,300.3 L81.4,300.9 L82.5,301.5 L83.5,302.1 L84.6,302.7 L85.6,303.4 L86.7,304.0 L87.7,304.7 L88.7,305.4 L89.7,306.0 L90.7,306.7 L91.7,307.4 L92.7,308.2 L93.7,308.9 L94.6,309.6 L95.6,310.4 L96.5,311.1 L97.5,311.9 L98.4,312.7 L99.3,313.5 L100.2,314.3 L101.1,315.1 L102.0,315.9 L102.9,316.7 L103.8,317.6 L104.6,318.4 L105.5,319.3 L106.3,320.1 L107.2,321.0 L108.0,321.9 L108.8,322.8 L109.6,323.7 L110.3,324.7 L111.1,325.6 L111.9,326.5 L112.6,327.5 L113.3,328.4 L114.1,329.4 L114.8,330.4 L115.5,331.4 L116.2,332.4 L116.8,333.4 L117.5,334.4 L118.2,335.4 L118.8,336.4 L119.4,337.5 L120.1,338.5 L120.7,339.6 L121.3,340.6 L121.9,341.7 L122.5,342.7 L123.1,343.8 L123.7,344.8 L124.3,345.9 L124.9,347.0 L125.5,348.0 L126.0,349.1 L126.6,350.2 L127.2,351.2 L127.7,352.3 L128.3,353.4 L128.9,354.5 L129.4,355.5 L130.0,356.6" fill="none" stroke="#b655cc" stroke-width="1.0" stroke-linejoin="round" stroke-linecap="round" />
<path d="M130.0,356.6 L130.8,355.7 L131.6,354.8 L132.3,353.9 L133.0,352.9 L133.7,352.0 L134.4,351.0 L135.0,350.0 L135.6,349.0 L136.2,347.9 L136.8,346.9 L137.4,345.9 L138.0,344.8 L138.5,343.7 L139.1,342.7 L139.6,341.6 L140.2,340.5 L140.7,339.4 L141.3,338.3 L141.8,337.2 L142.4,336.1 L142.9,335.1 L143.5,334.0 L144.1,332.9 L144.6,331.8 L145.2,330.7 L145.8,329.7 L146.5,328.6 L147.1,327.6 L147.7,326.5 L148.4,325.5 L149.0,324.4 L149.7,323.4 L150.4,322.4 L151.0,321.4 L151.7,320.4 L152.5,319.4 L153.2,318.4 L153.9,317.5 L154.7,316.5 L155.4,315.6 L156.2,314.6 L157.0,313.7 L157.8,312.8 L158.6,311.9 L159.4,311.1 L160.2,310.2 L161.1,309.3 L161.9,308.5 L162.8,307.7 L163.7,306.9 L164.6,306.1 L165.5,305.3 L166.4,304.5 L167.3,303.7 L168.2,303.0 L169.2,302.2 L170.1,301.5 L171.1,300.8 L172.0,300.1 L173.0,299.4 L174.0,298.7 L175.0,298.0 L176.0,297.4 L177.0,296.7 L178.0,296.1 L179.0,295.4 L180.1,294.8 L181.1,294.2 L182.2,293.6 L183.2,293.0 L184.3,292.4 L185.4,291.8 L186.4,291.3 L187.5,290.7 L188.6,290.2 L189.7,289.6 L190.8,289.1 L191.9,288.6 L193.0,288.1 L194.1,287.6 L195.3,287.1 L196.4,286.6 L197.5,286.1 L198.7,285.7 L199.8,285.2 L201.0,284.8 L202.1,284.3 L203.3,283.9 L204.4,283.5 L205.6,283.0 L206.7,282.6 L207.9,282.2 L209.1,281.8 L210.3,281.4 L211.4,281.1 L212.6,280.7 L213.8,280.3 L215.0,279.9 L216.2,279.6 L217.3,279.2 L218.5,278.9 L219.7,278.6 L220.9,278.2 L222.1,277.9 L223.3,277.6 L224.5,277.3 L225.7,277.0 L226.8,276.7 L228.0,276.4 L229.2,276.1 L230.4,275.8 L231.6,275.5 L232.8,275.2 L234.0,274.9 L235.2,274.7 L236.3,274.4 L237.5,274.1 L238.7,273.9 L239.9,273.6 L241.1,273.4 L242.2,273.1 L243.4,272.9 L244.6,272.7 L245.7,272.4 L246.9,272.2 L248.0,272.0 L249.2,271.7 L250.4,271.5 L251.5,271.3" fill="none" stroke="#b655cc" stroke-width="1.0" stroke-linejoin="round" stroke-linecap="round" />
<path d="M52.1,288.9 L53.3,289.3 L54.4,289.7 L55.6,290.2 L56.7,290.6 L57.9,291.1 L59.0,291.5 L60.1,292.0 L61.2,292.5 L62.4,293.0 L63.5,293.5 L64.6,294.1 L65.6,294.6 L66.7,295.2 L67.8,295.7 L68.9,296.3 L69.9,296.9 L71.0,297.5 L72.0,298.1 L73.1,298.8 L74.1,299.4 L75.1,300.1 L76.1,300.7 L77.1,301.4 L78.1,302.1 L79.1,302.8 L80.1,303.5 L81.0,304.2 L82.0,305.0 L82.9,305.7 L83.9,306.5 L84.8,307.3 L85.7,308.0 L86.6,308.8 L87.5,309.6 L88.4,310.5 L89.3,311.3 L90.2,312.1 L91.0,313.0 L91.9,313.8 L92.7,314.7 L93.5,315.6 L94.4,316.5 L95.2,317.4 L96.0,318.3 L96.7,319.3 L97.5,320.2 L98.3,321.1 L99.0,322.1 L99.8,323.1 L100.5,324.1 L101.2,325.0 L101.9,326.0 L102.6,327.0 L103.3,328.1 L103.9,329.1 L104.6,330.1 L105.2,331.2 L105.9,332.2 L106.5,333.2 L107.1,334.3 L107.7,335.4 L108.3,336.4 L108.9,337.5 L109.4,338.6 L110.0,339.7 L110.5,340.8 L111.0,341.9 L111.5,343.0 L112.0,344.1 L112.5,345.2 L113.0,346.3 L113.5,347.4 L113.9,348.6 L114.3,349.7 L114.8,350.8 L115.2,352.0 L115.5,353.1 L115.9,354.2 L116.3,355.4 L116.6,356.5 L117.0,357.7 L117.3,358.9 L117.6,360.0 L117.9,361.2 L118.2,362.4 L118.5,363.5 L118.7,364.7 L119.0,365.9 L119.2,367.1 L119.4,368.3 L119.6,369.5 L119.8,370.6 L120.0,371.8 L120.2,373.0 L120.3,374.2 L120.4,375.5 L120.6,376.7 L120.7,377.9 L120.8,379.1 L120.9,380.3 L121.0,381.5 L121.1,382.7 L121.1,383.9 L121.2,385.2 L121.3,386.4 L121.3,387.6 L121.4,388.8 L121.4,390.0 L121.5,391.3 L121.5,392.5 L121.5,393.7 L121.6,394.9 L121.6,396.2 L121.6,397.4 L121.6,398.6 L121.7,399.8 L121.7,401.1 L121.7,402.3 L121.8,403.5 L121.8,404.7 L121.8,405.9 L121.9,407.1 L121.9,408.4 L122.0,409.6 L122.0,410.8 L122.1,412.0 L122.1,413.2 L122.2,414.4" fill="none" stroke="#b655cc" stroke-width="1.0" stroke-linejoin="round" stroke-linecap="round" />
<path d="M123.4,414.4 L123.4,413.2 L123.4,412.1 L123.4,410.9 L123.4,409.7 L123.5,408.6 L123.5,407.4 L123.5,406.2 L123.5,405.0 L123.6,403.8 L123.6,402.6 L123.7,401.4 L123.7,400.2 L123.8,399.0 L123.8,397.8 L123.9,396.6 L124.0,395.4 L124.0,394.2 L124.1,393.0 L124.2,391.7 L124.3,390.5 L124.4,389.3 L124.5,388.1 L124.6,386.9 L124.7,385.6 L124.9,384.4 L125.0,383.2 L125.1,382.0 L125.3,380.8 L125.4,379.5 L125.6,378.3 L125.8,377.1 L125.9,375.9 L126.1,374.7 L126.3,373.4 L126.5,372.2 L126.7,371.0 L126.9,369.8 L127.2,368.6 L127.4,367.4 L127.6,366.2 L127.9,365.0 L128.1,363.8 L128.4,362.6 L128.7,361.4 L129.0,360.2 L129.3,359.0 L129.6,357.8 L129.9,356.6 L130.2,355.4 L130.5,354.2 L130.9,353.1 L131.2,351.9 L131.6,350.7 L131.9,349.6 L132.3,348.4 L132.7,347.3 L133.1,346.1 L133.5,345.0 L133.9,343.9 L134.4,342.7 L134.8,341.6 L135.3,340.5 L135.7,339.4 L136.2,338.3 L136.7,337.2 L137.2,336.1 L137.7,335.0 L138.2,333.9 L138.8,332.9 L139.3,331.8 L139.9,330.7 L140.4,329.7 L141.0,328.7 L141.6,327.6 L142.2,326.6 L142.8,325.6 L143.5,324.6 L144.1,323.6 L144.8,322.6 L145.5,321.6 L146.1,320.7 L146.8,319.7 L147.6,318.8 L148.3,317.8 L149.0,316.9 L149.8,316.0 L150.5,315.1 L151.3,314.2 L152.1,313.3 L152.9,312.4 L153.7,311.5 L154.5,310.7 L155.4,309.8 L156.2,309.0 L157.1,308.1 L157.9,307.3 L158.8,306.5 L159.7,305.7 L160.6,304.9 L161.5,304.1 L162.4,303.4 L163.4,302.6 L164.3,301.9 L165.3,301.1 L166.2,300.4 L167.2,299.7 L168.2,299.0 L169.2,298.3 L170.2,297.6 L171.2,296.9 L172.2,296.3 L173.2,295.6 L174.2,295.0 L175.3,294.4 L176.3,293.7 L177.3,293.1 L178.4,292.5 L179.5,291.9 L180.5,291.4 L181.6,290.8 L182.7,290.2 L183.8,289.7 L184.9,289.2 L186.0,288.6 L187.1,288.1 L188.2,287.6 L189.3,287.1 L190.5,286.6 L191.6,286.1 L192.7,285.7 L193.9,285.2 L195.0,284.7 L196.2,284.3 L197.3,283.9 L198.5,283.4 L199.6,283.0 L200.8,282.6 L202.0,282.2 L203.1,281.8 L204.3,281.4 L205.5,281.0 L206.6,280.7 L207.8,280.3 L209.0,279.9 L210.2,279.6 L211.4,279.2 L212.6,278.9 L213.8,278.6 L214.9,278.3 L216.1,278.0 L217.3,277.6 L218.5,277.3 L219.7,277.1 L220.9,276.8 L222.1,276.5 L223.3,276.2 L224.5,275.9 L225.7,275.7 L226.9,275.4 L228.1,275.2 L229.3,274.9 L230.5,274.7 L231.6,274.5 L232.8,274.2 L234.0,274.0 L235.2,273.8 L236.4,273.6 L237.6,273.4 L238.7,273.2 L239.9,273.0 L241.1,272.8 L242.3,272.6 L243.4,272.4 L244.6,272.3 L245.8,272.1 L246.9,271.9 L248.1,271.8 L249.2,271.6 L250.4,271.5 L251.5,271.3" fill="none" stroke="#b655cc" stroke-width="1.0" stroke-linejoin="round" stroke-linecap="round" />
<path d="M332.5,270.6 L333.7,270.4 L334.9,270.1 L336.1,269.9 L337.3,269.7 L338.5,269.4 L339.6,269.2 L340.8,269.0 L342.0,268.8 L343.2,268.6 L344.4,268.3 L345.6,268.1 L346.8,267.9 L348.0,267.7 L349.2,267.5 L350.4,267.3 L351.6,267.1 L352.8,266.9 L354.0,266.7 L355.2,266.5 L356.3,266.3 L357.5,266.2 L358.7,266.0 L359.9,265.8 L361.1,265.6 L362.3,265.4 L363.5,265.3 L364.7,265.1 L365.9,264.9 L367.1,264.7 L368.3,264.6 L369.5,264.4 L370.7,264.3 L371.9,264.1 L373.1,263.9 L374.3,263.8 L375.5,263.6 L376.7,263.5 L377.9,263.3 L379.1,263.2 L380.3,263.0 L381.5,262.9 L382.7,262.8 L383.9,262.6 L385.1,262.5 L386.3,262.3 L387.5,262.2 L388.7,262.1 L389.9,261.9 L391.1,261.8 L392.3,261.7 L393.5,261.6 L394.7,261.4 L395.9,261.3 L397.1,261.2 L398.3,261.1 L399.5,261.0 L400.7,260.9 L401.9,260.8 L403.1,260.6 L404.3,260.5 L405.5,260.4 L406.8,260.3 L408.0,260.2 L409.2,260.1 L410.4,260.0 L411.6,259.9 L412.8,259.8 L414.0,259.7 L415.2,259.6 L416.4,259.5 L417.6,259.4 L418.8,259.4 L420.0,259.3 L421.2,259.2 L422.4,259.1 L423.6,259.0 L424.8,258.9 L426.0,258.8 L427.2,258.8 L428.5,258.7 L429.7,258.6 L430.9,258.5 L432.1,258.4 L433.3,258.4 L434.5,258.3 L435.7,258.2 L436.9,258.1 L438.1,258.1 L439.3,258.0 L440.5,257.9 L441.7,257.9 L442.9,257.8 L444.2,257.7 L445.4,257.7 L446.6,257.6 L447.8,257.5 L449.0,257.5 L450.2,257.4 L451.4,257.4 L452.6,257.3 L453.8,257.2 L455.0,257.2 L456.2,257.1 L457.4,257.1 L458.7,257.0 L459.9,257.0 L461.1,256.9 L462.3,256.9 L463.5,256.8 L464.7,256.8 L465.9,256.7 L467.1,256.7 L468.3,256.6 L469.5,256.6 L470.7,256.5 L472.0,256.5 L473.2,256.4 L474.4,256.4 L475.6,256.3 L476.8,256.3 L478.0,256.2 L479.2,256.2 L480.4,256.1 L481.6,256.1 L482.8,256.0 L484.1,256.0 L485.3,256.0 L486.5,255.9 L487.7,255.9 L488.9,255.8 L490.1,255.8 L491.3,255.7 L492.5,255.7 L493.7,255.7 L494.9,255.6 L496.1,255.6 L497.4,255.5 L498.6,255.5 L499.8,255.5 L501.0,255.4 L502.2,255.4 L503.4,255.3 L504.6,255.3 L505.8,255.2 L507.0,255.2 L508.2,255.2 L509.4,255.1 L510.7,255.1 L511.9,255.0 L513.1,255.0 L514.3,255.0 L515.5,254.9 L516.7,254.9 L517.9,254.8 L519.1,254.8 L520.3,254.7 L521.5,254.7 L522.7,254.7 L523.9,254.6 L525.2,254.6 L526.4,254.5 L527.6,254.5 L528.8,254.4 L530.0,254.4 L531.2,254.3 L532.4,254.3" fill="none" stroke="#3ee6f2" stroke-width="1.3" stroke-linejoin="round" stroke-linecap="round" />
<path d="M333.0,357.6 L334.1,358.2 L335.2,358.8 L336.3,359.4 L337.4,360.0 L338.5,360.6 L339.6,361.2 L340.7,361.8 L341.7,362.4 L342.8,363.0 L343.9,363.6 L345.0,364.2 L346.1,364.8 L347.2,365.4 L348.3,366.0 L349.4,366.6 L350.5,367.2 L351.6,367.8 L352.7,368.3 L353.8,368.9 L354.9,369.5 L356.0,370.1 L357.1,370.7 L358.2,371.3 L359.2,371.9 L360.3,372.5 L361.4,373.1 L362.5,373.6 L363.6,374.2 L364.8,374.8 L365.9,375.4 L367.0,375.9 L368.1,376.5 L369.2,377.1 L370.3,377.6 L371.4,378.2 L372.5,378.7 L373.6,379.3 L374.7,379.8 L375.9,380.4 L377.0,380.9 L378.1,381.4 L379.2,382.0 L380.3,382.5 L381.5,383.0 L382.6,383.5 L383.7,384.0 L384.9,384.5 L386.0,385.0" fill="none" stroke="#4aa84a" stroke-width="1.0" stroke-linejoin="round" stroke-linecap="round" />
<path d="M333.0,357.6 L334.0,358.4 L335.0,359.2 L336.0,359.9 L337.0,360.7 L338.0,361.4 L339.0,362.1 L340.0,362.8 L341.1,363.5 L342.1,364.2 L343.2,364.9 L344.2,365.5 L345.3,366.2 L346.3,366.9 L347.4,367.5 L348.5,368.1 L349.6,368.8 L350.6,369.4 L351.7,370.0 L352.8,370.6 L353.9,371.2 L355.0,371.8 L356.1,372.4 L357.2,373.0 L358.3,373.6 L359.4,374.2 L360.5,374.8 L361.6,375.4 L362.7,376.0 L363.8,376.6 L364.9,377.2 L366.0,377.7 L367.1,378.3 L368.2,379.0 L369.3,379.6 L370.3,380.2 L371.4,380.8 L372.5,381.4 L373.6,382.0 L374.6,382.7 L375.7,383.3 L376.8,384.0 L377.8,384.6 L378.9,385.3 L379.9,386.0 L381.0,386.7 L382.0,387.4" fill="none" stroke="#4aa84a" stroke-width="1.0" stroke-linejoin="round" stroke-linecap="round" />
<path d="M382.0,387.4 L382.9,386.6 L383.8,385.8 L384.7,384.9 L385.5,384.0 L386.3,383.2 L387.1,382.2 L387.8,381.3 L388.6,380.4 L389.3,379.4 L389.9,378.4 L390.6,377.4 L391.3,376.4 L391.9,375.4 L392.5,374.4 L393.1,373.3 L393.7,372.3 L394.3,371.3 L394.9,370.2 L395.5,369.1 L396.1,368.1 L396.7,367.0 L397.2,366.0 L397.8,364.9 L398.4,363.9 L399.0,362.8 L399.6,361.8 L400.2,360.7 L400.8,359.7 L401.4,358.7 L402.0,357.6 L402.6,356.6 L403.3,355.6 L403.9,354.6 L404.6,353.5 L405.2,352.5 L405.9,351.5 L406.5,350.5 L407.2,349.5 L407.9,348.5 L408.6,347.5 L409.2,346.5 L409.9,345.6 L410.7,344.6 L411.4,343.6 L412.1,342.6 L412.8,341.7 L413.6,340.7 L414.3,339.8 L415.1,338.8 L415.9,337.9 L416.6,336.9 L417.4,336.0 L418.2,335.1 L419.0,334.1 L419.8,333.2 L420.6,332.3 L421.5,331.4 L422.3,330.5 L423.1,329.6 L424.0,328.7 L424.9,327.8 L425.7,327.0 L426.6,326.1 L427.5,325.3 L428.4,324.4 L429.3,323.6 L430.2,322.8 L431.1,321.9 L432.0,321.1 L432.9,320.3 L433.9,319.5 L434.8,318.8 L435.8,318.0 L436.7,317.2 L437.7,316.5 L438.6,315.8 L439.6,315.0 L440.6,314.3 L441.6,313.6 L442.6,312.9 L443.6,312.3 L444.6,311.6 L445.6,310.9 L446.6,310.3 L447.6,309.7 L448.7,309.0 L449.7,308.4 L450.7,307.8 L451.8,307.2 L452.8,306.7 L453.9,306.1 L455.0,305.5 L456.0,305.0 L457.1,304.4 L458.2,303.9 L459.3,303.4 L460.4,302.9 L461.5,302.4 L462.6,301.9 L463.7,301.4 L464.8,300.9 L465.9,300.5 L467.0,300.0 L468.1,299.5 L469.2,299.1 L470.4,298.7 L471.5,298.3 L472.6,297.8 L473.8,297.4 L474.9,297.0 L476.0,296.6 L477.2,296.3 L478.3,295.9 L479.5,295.5 L480.6,295.1 L481.8,294.8 L483.0,294.4 L484.1,294.1 L485.3,293.8 L486.5,293.4 L487.6,293.1 L488.8,292.8 L490.0,292.5 L491.2,292.2 L492.4,291.9 L493.5,291.6 L494.7,291.3 L495.9,291.0 L497.1,290.7 L498.3,290.5 L499.5,290.2 L500.7,290.0 L501.9,289.7 L503.1,289.4 L504.3,289.2 L505.5,289.0 L506.6,288.7 L507.8,288.5 L509.0,288.3 L510.2,288.0 L511.4,287.8 L512.6,287.6 L513.8,287.4 L515.0,287.2 L516.2,287.0 L517.4,286.8 L518.6,286.6 L519.8,286.4 L521.0,286.2 L522.2,286.0 L523.4,285.8 L524.6,285.6 L525.8,285.4 L527.0,285.3 L528.2,285.1 L529.4,284.9 L530.6,284.7 L531.8,284.6 L533.0,284.4" fill="none" stroke="#4aa84a" stroke-width="1.0" stroke-linejoin="round" stroke-linecap="round" />
<path d="M386.0,385.0 L387.0,384.5 L388.0,383.9 L388.9,383.3 L389.7,382.6 L390.5,381.8 L391.3,381.0 L392.0,380.1 L392.7,379.2 L393.3,378.2 L393.9,377.2 L394.5,376.1 L395.1,375.1 L395.6,374.0 L396.2,372.9 L396.7,371.8 L397.3,370.7 L397.8,369.6 L398.3,368.5 L398.9,367.4 L399.4,366.3 L400.0,365.2 L400.6,364.2 L401.1,363.1 L401.7,362.1 L402.3,361.0 L402.9,360.0 L403.5,358.9 L404.2,357.9 L404.8,356.9 L405.4,355.9 L406.0,354.8 L406.7,353.8 L407.3,352.8 L408.0,351.8 L408.7,350.8 L409.3,349.8 L410.0,348.9 L410.7,347.9 L411.4,346.9 L412.1,345.9 L412.8,344.9 L413.5,344.0 L414.2,343.0 L415.0,342.0 L415.7,341.0 L416.5,340.1 L417.2,339.1 L418.0,338.2 L418.7,337.2 L419.5,336.3 L420.3,335.3 L421.1,334.4 L421.8,333.4 L422.6,332.5 L423.4,331.6 L424.3,330.6 L425.1,329.7 L425.9,328.8 L426.7,327.9 L427.6,327.0 L428.4,326.2 L429.3,325.3 L430.2,324.4 L431.0,323.6 L431.9,322.7 L432.8,321.9 L433.7,321.0 L434.6,320.2 L435.5,319.4 L436.4,318.6 L437.3,317.8 L438.3,317.1 L439.2,316.3 L440.2,315.6 L441.1,314.8 L442.1,314.1 L443.0,313.4 L444.0,312.7 L445.0,312.0 L446.0,311.3 L447.0,310.7 L448.0,310.0 L449.0,309.4 L450.0,308.8 L451.1,308.1 L452.1,307.5 L453.1,306.9 L454.2,306.4 L455.2,305.8 L456.3,305.2 L457.3,304.7 L458.4,304.1 L459.5,303.6 L460.6,303.1 L461.7,302.6 L462.7,302.1 L463.8,301.6 L464.9,301.1 L466.0,300.6 L467.2,300.2 L468.3,299.7 L469.4,299.3 L470.5,298.8 L471.6,298.4 L472.8,298.0 L473.9,297.6 L475.0,297.2 L476.2,296.8 L477.3,296.4 L478.5,296.0 L479.6,295.7 L480.8,295.3 L482.0,294.9 L483.1,294.6 L484.3,294.2 L485.4,293.9 L486.6,293.6 L487.8,293.3 L489.0,292.9 L490.1,292.6 L491.3,292.3 L492.5,292.0 L493.7,291.7 L494.9,291.4 L496.1,291.2 L497.3,290.9 L498.4,290.6 L499.6,290.4 L500.8,290.1 L502.0,289.8 L503.2,289.6 L504.4,289.3 L505.6,289.1 L506.8,288.9 L508.0,288.6 L509.2,288.4 L510.4,288.2 L511.6,287.9 L512.8,287.7 L514.0,287.5 L515.2,287.3 L516.4,287.1 L517.6,286.9 L518.8,286.7 L520.0,286.5 L521.2,286.3 L522.3,286.1 L523.5,285.9 L524.7,285.7 L525.9,285.5 L527.1,285.3 L528.3,285.1 L529.5,284.9 L530.6,284.8 L531.8,284.6 L533.0,284.4" fill="none" stroke="#4aa84a" stroke-width="1.0" stroke-linejoin="round" stroke-linecap="round" />
<rect x="63.4" y="529.8" width="4.4" height="4.4" fill="#111"/>
<rect x="96.8" y="526.8" width="4.4" height="4.4" fill="#111"/>
<rect x="99.4" y="528.2" width="4.4" height="4.4" fill="#111"/>
<rect x="145.6" y="524" width="4.4" height="4.4" fill="#111"/>
<rect x="172.7" y="541.4" width="4.4" height="4.4" fill="#111"/>
<rect x="191.7" y="540.3" width="4.4" height="4.4" fill="#111"/>
<rect x="211.3" y="567.2" width="4.4" height="4.4" fill="#111"/>
<rect x="235.8" y="664.4" width="4.4" height="4.4" fill="#111"/>
<rect x="65.4" y="592.2" width="4.4" height="4.4" fill="#111"/>
<circle cx="65.4" cy="669" r="2.5" fill="#ff1a1a"/>
<circle cx="99" cy="669" r="2.5" fill="#ff1a1a"/>
<circle cx="101.4" cy="671.4" r="2.5" fill="#ff1a1a"/>
<circle cx="147.6" cy="671.6" r="2.5" fill="#ff1a1a"/>
<circle cx="175" cy="655.6" r="2.5" fill="#ff1a1a"/>
<circle cx="194" cy="667.6" r="2.5" fill="#ff1a1a"/>
<circle cx="213" cy="587.5" r="2.5" fill="#ff1a1a"/>
<circle cx="238.2" cy="537.7" r="2.5" fill="#ff1a1a"/>
<circle cx="68" cy="608.6" r="2.5" fill="#ff1a1a"/>
<path d="M65.0,527.3 L66.2,527.3 L67.4,527.4 L68.6,527.4 L69.7,527.4 L70.9,527.5 L72.1,527.5 L73.3,527.5 L74.5,527.5 L75.7,527.5 L76.9,527.6 L78.1,527.6 L79.3,527.6 L80.5,527.6 L81.7,527.6 L82.9,527.6 L84.1,527.6 L85.3,527.6 L86.6,527.6 L87.8,527.5 L89.0,527.5 L90.2,527.5 L91.4,527.5 L92.6,527.5 L93.8,527.5 L95.0,527.5 L96.3,527.5 L97.5,527.5 L98.7,527.5 L99.9,527.5 L101.1,527.5 L102.4,527.5 L103.6,527.5 L104.8,527.5 L106.0,527.5 L107.2,527.5 L108.4,527.5 L109.7,527.5 L110.9,527.5 L112.1,527.6 L113.3,527.6 L114.5,527.6 L115.8,527.7 L117.0,527.7 L118.2,527.7 L119.4,527.8 L120.6,527.8 L121.9,527.9 L123.1,528.0 L124.3,528.0 L125.5,528.1 L126.7,528.2 L127.9,528.3 L129.1,528.4 L130.4,528.5 L131.6,528.6 L132.8,528.7 L134.0,528.8 L135.2,529.0 L136.4,529.1 L137.6,529.3 L138.8,529.4 L140.0,529.6 L141.2,529.8 L142.4,529.9 L143.6,530.1 L144.8,530.3 L146.0,530.5 L147.2,530.8 L148.4,531.0 L149.6,531.3 L150.8,531.5 L151.9,531.8 L153.1,532.1 L154.3,532.3 L155.5,532.6 L156.7,533.0 L157.8,533.3 L159.0,533.6 L160.2,534.0 L161.4,534.3 L162.5,534.7 L163.7,535.1 L164.8,535.5 L166.0,535.9 L167.1,536.3 L168.3,536.8 L169.4,537.2 L170.6,537.7 L171.7,538.2 L172.8,538.7 L174.0,539.2 L175.1,539.7 L176.2,540.2 L177.3,540.8 L178.4,541.3 L179.5,541.9 L180.6,542.5 L181.6,543.1 L182.7,543.7 L183.7,544.3 L184.8,545.0 L185.8,545.6 L186.8,546.3 L187.8,547.0 L188.8,547.6 L189.8,548.3 L190.8,549.1 L191.7,549.8 L192.7,550.5 L193.6,551.3 L194.5,552.0 L195.4,552.8 L196.3,553.6 L197.2,554.4 L198.1,555.2 L198.9,556.1 L199.7,556.9 L200.5,557.7 L201.3,558.6 L202.1,559.5 L202.9,560.4 L203.6,561.3 L204.4,562.2 L205.1,563.1 L205.8,564.0 L206.5,565.0 L207.2,565.9 L207.9,566.9 L208.6,567.9 L209.2,568.8 L209.8,569.8 L210.5,570.8 L211.1,571.8 L211.7,572.9 L212.3,573.9 L212.9,574.9 L213.4,576.0 L214.0,577.0 L214.5,578.1 L215.1,579.2 L215.6,580.2 L216.1,581.3 L216.6,582.4 L217.1,583.5 L217.6,584.6 L218.0,585.7 L218.5,586.8 L219.0,588.0 L219.4,589.1 L219.8,590.2 L220.3,591.4 L220.7,592.5 L221.1,593.7 L221.5,594.8 L221.9,596.0 L222.3,597.2 L222.7,598.3 L223.0,599.5 L223.4,600.7 L223.8,601.9 L224.1,603.1 L224.5,604.2 L224.8,605.4 L225.1,606.6 L225.5,607.8 L225.8,609.0 L226.1,610.2 L226.4,611.5 L226.7,612.7 L227.0,613.9 L227.3,615.1 L227.6,616.3 L227.9,617.5 L228.2,618.7 L228.4,619.9 L228.7,621.2 L229.0,622.4 L229.2,623.6 L229.5,624.8 L229.8,626.0 L230.0,627.3 L230.3,628.5 L230.5,629.7 L230.8,630.9 L231.0,632.1 L231.3,633.3 L231.5,634.5 L231.7,635.8 L232.0,637.0 L232.2,638.2 L232.4,639.4 L232.7,640.6 L232.9,641.8 L233.1,643.0 L233.4,644.2 L233.6,645.4 L233.8,646.5 L234.1,647.7 L234.3,648.9 L234.6,650.1 L234.8,651.3 L235.0,652.4 L235.3,653.6 L235.5,654.7 L235.7,655.9 L236.0,657.0 L236.2,658.2 L236.5,659.3 L236.7,660.4 L237.0,661.6 L237.2,662.7 L237.5,663.8 L237.7,664.9 L238.0,666.0" fill="none" stroke="#505050" stroke-width="1.1" stroke-dasharray="2.6,1.8" stroke-linejoin="round" stroke-linecap="round" />
<path d="M65.0,669.0 L66.2,668.9 L67.4,668.9 L68.6,668.8 L69.8,668.7 L71.0,668.7 L72.2,668.6 L73.4,668.6 L74.6,668.5 L75.8,668.5 L77.0,668.5 L78.2,668.5 L79.4,668.4 L80.6,668.4 L81.8,668.4 L83.0,668.4 L84.3,668.4 L85.5,668.4 L86.7,668.3 L87.9,668.3 L89.1,668.3 L90.3,668.3 L91.5,668.3 L92.7,668.3 L93.9,668.3 L95.2,668.3 L96.4,668.3 L97.6,668.3 L98.8,668.4 L100.0,668.4 L101.2,668.4 L102.4,668.4 L103.6,668.4 L104.9,668.4 L106.1,668.4 L107.3,668.4 L108.5,668.3 L109.7,668.3 L110.9,668.3 L112.2,668.3 L113.4,668.3 L114.6,668.3 L115.8,668.3 L117.0,668.2 L118.2,668.2 L119.4,668.2 L120.7,668.1 L121.9,668.1 L123.1,668.1 L124.3,668.0 L125.5,668.0 L126.7,667.9 L127.9,667.8 L129.2,667.8 L130.4,667.7 L131.6,667.6 L132.8,667.5 L134.0,667.4 L135.2,667.3 L136.4,667.2 L137.7,667.1 L138.9,667.0 L140.1,666.8 L141.3,666.7 L142.5,666.5 L143.7,666.4 L144.9,666.2 L146.1,666.1 L147.3,665.9 L148.5,665.7 L149.7,665.5 L151.0,665.3 L152.2,665.0 L153.4,664.8 L154.6,664.6 L155.8,664.3 L157.0,664.0 L158.2,663.8 L159.3,663.5 L160.5,663.2 L161.7,662.9 L162.9,662.5 L164.0,662.2 L165.2,661.8 L166.4,661.5 L167.5,661.1 L168.7,660.7 L169.8,660.3 L170.9,659.8 L172.0,659.4 L173.1,658.9 L174.2,658.4 L175.3,657.9 L176.4,657.4 L177.4,656.9 L178.5,656.3 L179.5,655.7 L180.5,655.1 L181.5,654.5 L182.5,653.9 L183.5,653.2 L184.5,652.5 L185.4,651.8 L186.3,651.1 L187.2,650.3 L188.1,649.6 L189.0,648.8 L189.9,648.0 L190.7,647.1 L191.5,646.3 L192.3,645.4 L193.1,644.5 L193.9,643.6 L194.6,642.6 L195.4,641.7 L196.1,640.7 L196.8,639.7 L197.5,638.7 L198.2,637.7 L198.9,636.7 L199.5,635.7 L200.2,634.6 L200.8,633.6 L201.4,632.5 L202.1,631.5 L202.7,630.4 L203.3,629.3 L203.9,628.3 L204.5,627.2 L205.0,626.1 L205.6,625.1 L206.2,624.0 L206.7,622.9 L207.3,621.8 L207.8,620.7 L208.4,619.6 L208.9,618.5 L209.4,617.4 L209.9,616.3 L210.5,615.2 L211.0,614.1 L211.5,613.0 L211.9,611.9 L212.4,610.8 L212.9,609.7 L213.4,608.6 L213.9,607.4 L214.3,606.3 L214.8,605.2 L215.2,604.1 L215.7,602.9 L216.1,601.8 L216.6,600.7 L217.0,599.5 L217.4,598.4 L217.9,597.3 L218.3,596.1 L218.7,595.0 L219.1,593.8 L219.5,592.7 L219.9,591.6 L220.3,590.4 L220.7,589.3 L221.1,588.1 L221.5,587.0 L221.9,585.8 L222.3,584.7 L222.7,583.5 L223.1,582.4 L223.5,581.2 L223.9,580.1 L224.3,578.9 L224.6,577.7 L225.0,576.6 L225.4,575.4 L225.8,574.3 L226.2,573.1 L226.5,572.0 L226.9,570.8 L227.3,569.7 L227.7,568.5 L228.0,567.4 L228.4,566.2 L228.8,565.0 L229.2,563.9 L229.5,562.7 L229.9,561.6 L230.3,560.4 L230.7,559.3 L231.0,558.1 L231.4,557.0 L231.8,555.8 L232.2,554.7 L232.6,553.6 L233.0,552.4 L233.3,551.3 L233.7,550.1 L234.1,549.0 L234.5,547.9 L234.9,546.7 L235.3,545.6 L235.7,544.5 L236.1,543.3 L236.5,542.2 L236.9,541.1 L237.4,539.9 L237.8,538.8 L238.2,537.7" fill="none" stroke="#ff6060" stroke-width="0.8" stroke-dasharray="0.9,1.3" stroke-linejoin="round" stroke-linecap="round" />
<text x="53" y="521.5" font-size="8.6" text-anchor="start" fill="#111" stroke="#111" stroke-width="0.15" >-OCH</text>
<text x="74.5" y="523.5" font-size="5.8" text-anchor="start" fill="#111" >2</text>
<text x="77.8" y="521.5" font-size="8.6" text-anchor="start" fill="#111" stroke="#111" stroke-width="0.15" >O-</text>
<text x="99" y="523" font-size="8.6" text-anchor="start" fill="#111" stroke="#111" stroke-width="0.15" >-C</text>
<text x="108" y="525" font-size="5.8" text-anchor="start" fill="#111" >6</text>
<text x="111.5" y="523" font-size="8.6" text-anchor="start" fill="#111" stroke="#111" stroke-width="0.15" >H</text>
<text x="117.7" y="525" font-size="5.8" text-anchor="start" fill="#111" >5</text>
<text x="142.5" y="521" font-size="8.6" text-anchor="start" fill="#111" stroke="#111" stroke-width="0.15" >-Cl</text>
<text x="191.7" y="536" font-size="8.6" text-anchor="start" fill="#111" stroke="#111" stroke-width="0.15" >-COOMe</text>
<text x="152" y="557.5" font-size="8.6" text-anchor="start" fill="#111" stroke="#111" stroke-width="0.15" >-CONHMe</text>
<text x="194" y="578.5" font-size="8.6" text-anchor="start" fill="#111" stroke="#111" stroke-width="0.15" >-CF</text>
<text x="208" y="581" font-size="5.8" text-anchor="start" fill="#111" >3</text>
<text x="216" y="661" font-size="8.6" text-anchor="start" fill="#111" stroke="#111" stroke-width="0.15" >-CN</text>
<text x="79" y="598.5" font-size="9.5" text-anchor="start" fill="#111" stroke="#111" stroke-width="0.3" >V</text>
<text x="85.5" y="601" font-size="6.2" text-anchor="start" fill="#111" >Tn</text>
<text x="79" y="612.5" font-size="9.5" text-anchor="start" fill="#111" stroke="#111" stroke-width="0.3" >μ</text>
<text x="87" y="614.5" font-size="6.2" text-anchor="start" fill="#111" >e</text>
<path d="M345.4,115.9 L343.6,115.9 L343.6,136.8 L345.4,136.8" fill="none" stroke="#4a4a4a" stroke-width="0.8" stroke-linejoin="round"/>
<path d="M363,115.9 L364.8,115.9 L364.8,136.8 L363,136.8" fill="none" stroke="#4a4a4a" stroke-width="0.8" stroke-linejoin="round"/>
<path d="M339.1,128.6 L349.5,123.2 L358.9,128.6 L369.1,122.7" fill="none" stroke="#4a4a4a" stroke-width="0.8" stroke-linejoin="round"/>
<path d="M358.9,128.6 L358.9,139.8" fill="none" stroke="#4a4a4a" stroke-width="0.8" stroke-linejoin="round"/>
<path d="M358.9,139.8 L369.5,145.9 L369.5,157.7 L358.9,163.6 L348.6,157.7 L348.6,145.9 L358.9,139.8" fill="none" stroke="#4a4a4a" stroke-width="0.8" stroke-linejoin="round"/>
<path d="M350.4,147.2 L358.9,142.2" fill="none" stroke="#4a4a4a" stroke-width="0.8" stroke-linejoin="round"/>
<path d="M367.6,147.2 L367.6,156.4" fill="none" stroke="#4a4a4a" stroke-width="0.8" stroke-linejoin="round"/>
<path d="M350.4,156.4 L358.9,161.3" fill="none" stroke="#4a4a4a" stroke-width="0.8" stroke-linejoin="round"/>
<text x="367.8" y="140.5" font-size="7.8" text-anchor="start" fill="#111" stroke="#111" stroke-width="0.22" >n</text>
<path d="M498.2,135.9 L496.4,135.9 L496.4,159.1 L498.2,159.1" fill="none" stroke="#4a4a4a" stroke-width="0.8" stroke-linejoin="round"/>
<path d="M518.2,135.9 L520,135.9 L520,159.1 L518.2,159.1" fill="none" stroke="#4a4a4a" stroke-width="0.8" stroke-linejoin="round"/>
<path d="M491.8,149.5 L502.3,143.8 L513.6,149.5 L525,143.2" fill="none" stroke="#4a4a4a" stroke-width="0.8" stroke-linejoin="round"/>
<path d="M502.3,143.8 L502.3,136.5" fill="none" stroke="#4a4a4a" stroke-width="0.8" stroke-linejoin="round"/>
<text x="503.2" y="134.3" font-size="8.4" text-anchor="middle" fill="#111" stroke="#111" stroke-width="0.22" >Cl</text>
<text x="522.5" y="162" font-size="7.5" text-anchor="start" fill="#111" stroke="#111" stroke-width="0.22" >n</text>
<path d="M74.1,372.9 L72.3,372.9 L72.3,393.8 L74.1,393.8" fill="none" stroke="#4a4a4a" stroke-width="0.8" stroke-linejoin="round"/>
<path d="M92.7,372.9 L94.5,372.9 L94.5,393.8 L92.7,393.8" fill="none" stroke="#4a4a4a" stroke-width="0.8" stroke-linejoin="round"/>
<path d="M68.6,384.7 L78.2,379.7 L88.6,385.2 L97.7,379.7" fill="none" stroke="#4a4a4a" stroke-width="0.8" stroke-linejoin="round"/>
<path d="M78.2,379.7 L78.2,371.3" fill="none" stroke="#4a4a4a" stroke-width="0.8" stroke-linejoin="round"/>
<path d="M78.2,379.7 L78.6,390.6" fill="none" stroke="#4a4a4a" stroke-width="0.8" stroke-linejoin="round"/>
<path d="M78.6,390.2 L86,390.2" fill="none" stroke="#4a4a4a" stroke-width="0.8" stroke-linejoin="round"/>
<path d="M78.6,392.1 L86,392.1" fill="none" stroke="#4a4a4a" stroke-width="0.8" stroke-linejoin="round"/>
<path d="M78.6,391.5 L76.6,397.5" fill="none" stroke="#4a4a4a" stroke-width="0.8" stroke-linejoin="round"/>
<text x="89.8" y="397.5" font-size="8.8" text-anchor="middle" fill="#111" stroke="#111" stroke-width="0.22" >O</text>
<text x="75.3" y="371.4" font-size="7.6" text-anchor="start" fill="#111" stroke="#111" stroke-width="0.22" >CH</text>
<text x="86.4" y="373.4" font-size="5.4" text-anchor="start" fill="#111" stroke="#111" stroke-width="0.22" >3</text>
<text x="98" y="398" font-size="7.2" text-anchor="start" fill="#111" stroke="#111" stroke-width="0.22" >n</text>
<text x="56.8" y="405.8" font-size="7.6" text-anchor="start" fill="#111" stroke="#111" stroke-width="0.22" >H</text>
<text x="62.3" y="407.8" font-size="5.4" text-anchor="start" fill="#111" stroke="#111" stroke-width="0.22" >3</text>
<text x="65.6" y="405.8" font-size="7.6" text-anchor="start" fill="#111" stroke="#111" stroke-width="0.22" >CO</text>
<path d="M197.6,370.7 L195.8,370.7 L195.8,391.1 L197.6,391.1" fill="none" stroke="#4a4a4a" stroke-width="0.8" stroke-linejoin="round"/>
<path d="M240.5,370.7 L242.3,370.7 L242.3,391.1 L240.5,391.1" fill="none" stroke="#4a4a4a" stroke-width="0.8" stroke-linejoin="round"/>
<path d="M189.5,380.9 L200.3,374.5 L211.1,380.9 L222.5,374.5 L234,380.9 L243.5,374.5" fill="none" stroke="#4a4a4a" stroke-width="0.8" stroke-linejoin="round"/>
<path d="M211.1,380.9 L211.5,389.5" fill="none" stroke="#4a4a4a" stroke-width="0.8" stroke-linejoin="round"/>
<path d="M234,380.9 L234,389.5" fill="none" stroke="#4a4a4a" stroke-width="0.8" stroke-linejoin="round"/>
<path d="M214,396.4 L222.5,400.5 L231.5,396.4" fill="none" stroke="#4a4a4a" stroke-width="0.8" stroke-linejoin="round"/>
<text x="211.7" y="396.8" font-size="8.8" text-anchor="middle" fill="#111" stroke="#111" stroke-width="0.22" >O</text>
<text x="234" y="396.8" font-size="8.8" text-anchor="middle" fill="#111" stroke="#111" stroke-width="0.22" >O</text>
<text x="245" y="395" font-size="7.5" text-anchor="start" fill="#111" stroke="#111" stroke-width="0.22" >n</text>
<path d="M351.2,305 L349.4,305 L349.4,328 L351.2,328" fill="none" stroke="#4a4a4a" stroke-width="0.8" stroke-linejoin="round"/>
<path d="M371.8,305 L373.6,305 L373.6,328 L371.8,328" fill="none" stroke="#4a4a4a" stroke-width="0.8" stroke-linejoin="round"/>
<path d="M345.6,319 L356,313.6 L368,319 L378,313" fill="none" stroke="#4a4a4a" stroke-width="0.8" stroke-linejoin="round"/>
<path d="M356,313.6 L356,304.5" fill="none" stroke="#4a4a4a" stroke-width="0.8" stroke-linejoin="round"/>
<text x="359.5" y="303" font-size="8.2" text-anchor="middle" fill="#111" stroke="#111" stroke-width="0.22" >CN</text>
<text x="376" y="332" font-size="7.5" text-anchor="start" fill="#111" stroke="#111" stroke-width="0.22" >n</text>
<path d="M473.2,350 L471.4,350 L471.4,375 L473.2,375" fill="none" stroke="#4a4a4a" stroke-width="0.8" stroke-linejoin="round"/>
<path d="M495.5,350 L497.3,350 L497.3,375 L495.5,375" fill="none" stroke="#4a4a4a" stroke-width="0.8" stroke-linejoin="round"/>
<path d="M465.9,365 L478.2,358.5 L490.9,365 L502.7,358.2" fill="none" stroke="#4a4a4a" stroke-width="0.8" stroke-linejoin="round"/>
<path d="M478.2,350.5 L478.2,366" fill="none" stroke="#4a4a4a" stroke-width="0.8" stroke-linejoin="round"/>
<text x="478.2" y="347.3" font-size="8.8" text-anchor="middle" fill="#111" stroke="#111" stroke-width="0.22" >F</text>
<text x="478.2" y="375.5" font-size="8.8" text-anchor="middle" fill="#111" stroke="#111" stroke-width="0.22" >F</text>
<text x="502" y="380.2" font-size="8.6" text-anchor="start" fill="#111" stroke="#111" stroke-width="0.22" >n</text>
<text x="453.2" y="398" font-size="9.6" text-anchor="start" fill="#555" >μ</text>
<text x="459" y="400" font-size="6" text-anchor="start" fill="#111" >e</text>
<text x="463" y="398" font-size="10" text-anchor="start" fill="#111" stroke="#111" stroke-width="0.1" >= 61.1 cm</text>
<text x="507" y="393.5" font-size="6.5" text-anchor="start" fill="#111" >2</text>
<text x="510.5" y="398" font-size="10" text-anchor="start" fill="#111" stroke="#111" stroke-width="0.1" >/V s</text>
</svg></body></html>
